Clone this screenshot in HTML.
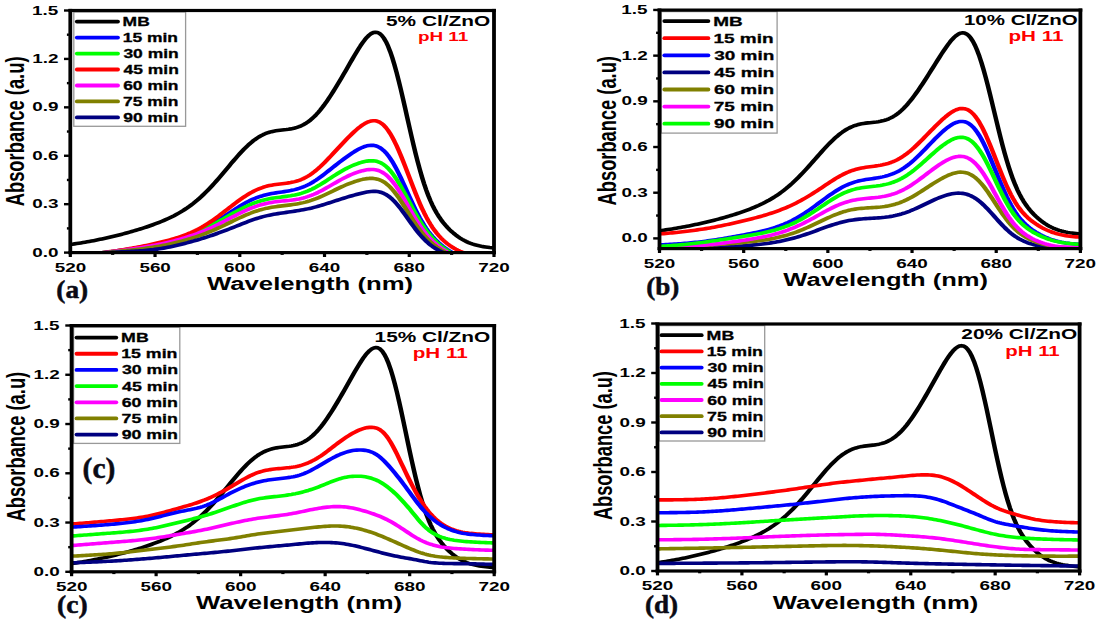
<!DOCTYPE html>
<html><head><meta charset="utf-8"><title>Absorbance spectra</title>
<style>html,body{margin:0;padding:0;background:#fff;width:1100px;height:625px;overflow:hidden}svg{display:block}</style></head>
<body>
<svg width="1100" height="625" viewBox="0 0 1100 625">
<rect width="1100" height="625" fill="#ffffff"/>
<clipPath id="clipa"><rect x="56.24" y="10.50" width="338.96" height="242.10"/></clipPath>
<g transform="scale(1.25,1)" clip-path="url(#clipa)" fill="none" stroke-width="3.6" stroke-linejoin="round">
<path d="M56.24,244.49 L57.93,244.19 L59.63,243.88 L61.32,243.56 L63.02,243.23 L64.71,242.89 L66.41,242.54 L68.10,242.18 L69.80,241.81 L71.49,241.42 L73.19,241.03 L74.88,240.63 L76.58,240.22 L78.27,239.79 L79.97,239.36 L81.66,238.91 L83.36,238.46 L85.05,237.99 L86.75,237.51 L88.44,237.03 L90.14,236.53 L91.83,236.02 L93.53,235.50 L95.22,234.97 L96.92,234.42 L98.61,233.87 L100.30,233.30 L102.00,232.73 L103.69,232.14 L105.39,231.54 L107.08,230.93 L108.78,230.30 L110.47,229.67 L112.17,229.01 L113.86,228.35 L115.56,227.66 L117.25,226.97 L118.95,226.25 L120.64,225.51 L122.34,224.76 L124.03,223.98 L125.73,223.18 L127.42,222.36 L129.12,221.50 L130.81,220.62 L132.51,219.70 L134.20,218.75 L135.90,217.76 L137.59,216.73 L139.29,215.66 L140.98,214.53 L142.67,213.36 L144.37,212.13 L146.06,210.85 L147.76,209.50 L149.45,208.10 L151.15,206.62 L152.84,205.08 L154.54,203.47 L156.23,201.78 L157.93,200.02 L159.62,198.18 L161.32,196.27 L163.01,194.28 L164.71,192.22 L166.40,190.08 L168.10,187.88 L169.79,185.61 L171.49,183.28 L173.18,180.90 L174.88,178.47 L176.57,176.00 L178.27,173.49 L179.96,170.97 L181.66,168.44 L183.35,165.90 L185.04,163.37 L186.74,160.87 L188.43,158.41 L190.13,155.99 L191.82,153.63 L193.52,151.35 L195.21,149.15 L196.91,147.05 L198.60,145.05 L200.30,143.18 L201.99,141.42 L203.69,139.80 L205.38,138.31 L207.08,136.96 L208.77,135.74 L210.47,134.67 L212.16,133.73 L213.86,132.92 L215.55,132.23 L217.25,131.65 L218.94,131.17 L220.64,130.78 L222.33,130.46 L224.03,130.18 L225.72,129.94 L227.41,129.71 L229.11,129.48 L230.80,129.21 L232.50,128.89 L234.19,128.50 L235.89,128.02 L237.58,127.42 L239.28,126.69 L240.97,125.82 L242.67,124.79 L244.36,123.58 L246.06,122.20 L247.75,120.63 L249.45,118.87 L251.14,116.91 L252.84,114.78 L254.53,112.45 L256.23,109.96 L257.92,107.30 L259.62,104.48 L261.31,101.53 L263.01,98.44 L264.70,95.24 L266.40,91.94 L268.09,88.55 L269.78,85.08 L271.48,81.54 L273.17,77.95 L274.87,74.32 L276.56,70.66 L278.26,66.98 L279.95,63.30 L281.65,59.63 L283.34,56.01 L285.04,52.46 L286.73,49.02 L288.43,45.73 L290.12,42.65 L291.82,39.83 L293.51,37.34 L295.21,35.26 L296.90,33.65 L298.60,32.60 L300.29,32.19 L301.99,32.47 L303.68,33.53 L305.38,35.40 L307.07,38.13 L308.77,41.74 L310.46,46.23 L312.15,51.59 L313.85,57.76 L315.54,64.71 L317.24,72.34 L318.93,80.56 L320.63,89.27 L322.32,98.34 L324.02,107.65 L325.71,117.08 L327.41,126.50 L329.10,135.79 L330.80,144.84 L332.49,153.56 L334.19,161.87 L335.88,169.70 L337.58,177.01 L339.27,183.78 L340.97,189.98 L342.66,195.63 L344.36,200.75 L346.05,205.38 L347.75,209.54 L349.44,213.29 L351.14,216.67 L352.83,219.74 L354.52,222.52 L356.22,225.07 L357.91,227.41 L359.61,229.56 L361.30,231.55 L363.00,233.39 L364.69,235.09 L366.39,236.66 L368.08,238.09 L369.78,239.39 L371.47,240.57 L373.17,241.62 L374.86,242.56 L376.56,243.39 L378.25,244.13 L379.95,244.77 L381.64,245.33 L383.34,245.82 L385.03,246.25 L386.73,246.63 L388.42,246.96 L390.12,247.26 L391.81,247.53 L393.51,247.76 L395.20,247.98" stroke="#000000"/>
<path d="M56.24,256.73 L57.93,256.49 L59.63,256.25 L61.32,256.00 L63.02,255.76 L64.71,255.51 L66.41,255.25 L68.10,255.00 L69.80,254.74 L71.49,254.47 L73.19,254.21 L74.88,253.94 L76.58,253.68 L78.27,253.41 L79.97,253.13 L81.66,252.86 L83.36,252.58 L85.05,252.30 L86.75,252.03 L88.44,251.74 L90.14,251.46 L91.83,251.17 L93.53,250.88 L95.22,250.59 L96.92,250.29 L98.61,249.99 L100.30,249.68 L102.00,249.37 L103.69,249.06 L105.39,248.74 L107.08,248.41 L108.78,248.08 L110.47,247.74 L112.17,247.39 L113.86,247.03 L115.56,246.67 L117.25,246.29 L118.95,245.91 L120.64,245.51 L122.34,245.11 L124.03,244.68 L125.73,244.25 L127.42,243.80 L129.12,243.33 L130.81,242.84 L132.51,242.34 L134.20,241.81 L135.90,241.26 L137.59,240.69 L139.29,240.10 L140.98,239.47 L142.67,238.83 L144.37,238.15 L146.06,237.44 L147.76,236.70 L149.45,235.93 L151.15,235.12 L152.84,234.27 L154.54,233.39 L156.23,232.47 L157.93,231.52 L159.62,230.52 L161.32,229.49 L163.01,228.41 L164.71,227.30 L166.40,226.15 L168.10,224.96 L169.79,223.74 L171.49,222.49 L173.18,221.21 L174.88,219.91 L176.57,218.58 L178.27,217.24 L179.96,215.87 L181.66,214.48 L183.35,213.09 L185.04,211.69 L186.74,210.30 L188.43,208.93 L190.13,207.58 L191.82,206.26 L193.52,204.98 L195.21,203.74 L196.91,202.56 L198.60,201.45 L200.30,200.40 L201.99,199.42 L203.69,198.51 L205.38,197.67 L207.08,196.90 L208.77,196.20 L210.47,195.56 L212.16,194.99 L213.86,194.48 L215.55,194.01 L217.25,193.60 L218.94,193.23 L220.64,192.89 L222.33,192.57 L224.03,192.26 L225.72,191.95 L227.41,191.64 L229.11,191.31 L230.80,190.95 L232.50,190.56 L234.19,190.11 L235.89,189.61 L237.58,189.05 L239.28,188.41 L240.97,187.69 L242.67,186.88 L244.36,185.98 L246.06,184.99 L247.75,183.90 L249.45,182.72 L251.14,181.45 L252.84,180.09 L254.53,178.66 L256.23,177.15 L257.92,175.59 L259.62,173.97 L261.31,172.32 L263.01,170.65 L264.70,168.96 L266.40,167.28 L268.09,165.60 L269.78,163.94 L271.48,162.30 L273.17,160.69 L274.87,159.10 L276.56,157.55 L278.26,156.04 L279.95,154.57 L281.65,153.15 L283.34,151.78 L285.04,150.49 L286.73,149.30 L288.43,148.21 L290.12,147.26 L291.82,146.46 L293.51,145.85 L295.21,145.44 L296.90,145.27 L298.60,145.36 L300.29,145.74 L301.99,146.45 L303.68,147.49 L305.38,148.90 L307.07,150.68 L308.77,152.85 L310.46,155.40 L312.15,158.33 L313.85,161.61 L315.54,165.23 L317.24,169.16 L318.93,173.34 L320.63,177.73 L322.32,182.28 L324.02,186.93 L325.71,191.62 L327.41,196.31 L329.10,200.93 L330.80,205.44 L332.49,209.80 L334.19,213.97 L335.88,217.93 L337.58,221.65 L339.27,225.13 L340.97,228.35 L342.66,231.33 L344.36,234.07 L346.05,236.59 L347.75,238.90 L349.44,241.03 L351.14,242.99 L352.83,244.81 L354.52,246.50 L356.22,248.07 L357.91,249.55 L359.61,250.93 L361.30,252.23 L363.00,253.44 L364.69,254.56 L366.39,255.60 L368.08,256.55 L369.78,257.42 L371.47,258.21 L373.17,258.92 L374.86,259.54 L376.56,260.10 L378.25,260.58 L379.95,261.00 L381.64,261.36 L383.34,261.67 L385.03,261.93 L386.73,262.15 L388.42,262.34 L390.12,262.49 L391.81,262.61 L393.51,262.71 L395.20,262.79" stroke="#0000ff"/>
<path d="M56.24,256.57 L57.93,256.34 L59.63,256.11 L61.32,255.88 L63.02,255.64 L64.71,255.40 L66.41,255.15 L68.10,254.91 L69.80,254.66 L71.49,254.41 L73.19,254.16 L74.88,253.90 L76.58,253.64 L78.27,253.39 L79.97,253.13 L81.66,252.87 L83.36,252.60 L85.05,252.34 L86.75,252.07 L88.44,251.81 L90.14,251.54 L91.83,251.26 L93.53,250.99 L95.22,250.71 L96.92,250.42 L98.61,250.14 L100.30,249.84 L102.00,249.55 L103.69,249.24 L105.39,248.93 L107.08,248.62 L108.78,248.30 L110.47,247.97 L112.17,247.63 L113.86,247.28 L115.56,246.92 L117.25,246.56 L118.95,246.18 L120.64,245.79 L122.34,245.38 L124.03,244.97 L125.73,244.54 L127.42,244.09 L129.12,243.62 L130.81,243.14 L132.51,242.64 L134.20,242.11 L135.90,241.57 L137.59,241.01 L139.29,240.42 L140.98,239.81 L142.67,239.17 L144.37,238.51 L146.06,237.82 L147.76,237.10 L149.45,236.35 L151.15,235.58 L152.84,234.77 L154.54,233.93 L156.23,233.06 L157.93,232.15 L159.62,231.22 L161.32,230.25 L163.01,229.25 L164.71,228.22 L166.40,227.15 L168.10,226.07 L169.79,224.95 L171.49,223.81 L173.18,222.66 L174.88,221.48 L176.57,220.30 L178.27,219.10 L179.96,217.89 L181.66,216.69 L183.35,215.48 L185.04,214.28 L186.74,213.10 L188.43,211.93 L190.13,210.78 L191.82,209.66 L193.52,208.57 L195.21,207.52 L196.91,206.50 L198.60,205.53 L200.30,204.61 L201.99,203.74 L203.69,202.92 L205.38,202.16 L207.08,201.45 L208.77,200.80 L210.47,200.20 L212.16,199.67 L213.86,199.18 L215.55,198.75 L217.25,198.37 L218.94,198.03 L220.64,197.72 L222.33,197.43 L224.03,197.16 L225.72,196.90 L227.41,196.63 L229.11,196.35 L230.80,196.05 L232.50,195.72 L234.19,195.35 L235.89,194.94 L237.58,194.47 L239.28,193.93 L240.97,193.33 L242.67,192.66 L244.36,191.91 L246.06,191.08 L247.75,190.18 L249.45,189.20 L251.14,188.14 L252.84,187.02 L254.53,185.83 L256.23,184.58 L257.92,183.29 L259.62,181.96 L261.31,180.59 L263.01,179.22 L264.70,177.83 L266.40,176.45 L268.09,175.09 L269.78,173.75 L271.48,172.45 L273.17,171.20 L274.87,170.00 L276.56,168.86 L278.26,167.77 L279.95,166.75 L281.65,165.78 L283.34,164.87 L285.04,164.03 L286.73,163.27 L288.43,162.58 L290.12,161.99 L291.82,161.49 L293.51,161.11 L295.21,160.87 L296.90,160.76 L298.60,160.83 L300.29,161.09 L301.99,161.58 L303.68,162.33 L305.38,163.36 L307.07,164.68 L308.77,166.32 L310.46,168.28 L312.15,170.56 L313.85,173.16 L315.54,176.06 L317.24,179.25 L318.93,182.68 L320.63,186.33 L322.32,190.13 L324.02,194.06 L325.71,198.05 L327.41,202.05 L329.10,206.04 L330.80,209.95 L332.49,213.76 L334.19,217.43 L335.88,220.95 L337.58,224.28 L339.27,227.41 L340.97,230.35 L342.66,233.09 L344.36,235.64 L346.05,238.01 L347.75,240.20 L349.44,242.24 L351.14,244.14 L352.83,245.92 L354.52,247.58 L356.22,249.13 L357.91,250.60 L359.61,251.97 L361.30,253.25 L363.00,254.44 L364.69,255.55 L366.39,256.58 L368.08,257.52 L369.78,258.39 L371.47,259.17 L373.17,259.87 L374.86,260.49 L376.56,261.05 L378.25,261.53 L379.95,261.95 L381.64,262.30 L383.34,262.61 L385.03,262.86 L386.73,263.08 L388.42,263.25 L390.12,263.39 L391.81,263.49 L393.51,263.57 L395.20,263.62" stroke="#00ff00"/>
<path d="M56.24,255.10 L57.93,255.01 L59.63,254.91 L61.32,254.80 L63.02,254.68 L64.71,254.55 L66.41,254.41 L68.10,254.26 L69.80,254.10 L71.49,253.93 L73.19,253.75 L74.88,253.56 L76.58,253.36 L78.27,253.14 L79.97,252.92 L81.66,252.68 L83.36,252.43 L85.05,252.17 L86.75,251.90 L88.44,251.61 L90.14,251.32 L91.83,251.01 L93.53,250.70 L95.22,250.37 L96.92,250.04 L98.61,249.70 L100.30,249.34 L102.00,248.98 L103.69,248.62 L105.39,248.24 L107.08,247.86 L108.78,247.46 L110.47,247.06 L112.17,246.66 L113.86,246.24 L115.56,245.82 L117.25,245.38 L118.95,244.94 L120.64,244.49 L122.34,244.03 L124.03,243.56 L125.73,243.08 L127.42,242.59 L129.12,242.08 L130.81,241.55 L132.51,241.02 L134.20,240.46 L135.90,239.88 L137.59,239.29 L139.29,238.67 L140.98,238.02 L142.67,237.35 L144.37,236.64 L146.06,235.90 L147.76,235.12 L149.45,234.30 L151.15,233.44 L152.84,232.54 L154.54,231.58 L156.23,230.58 L157.93,229.52 L159.62,228.41 L161.32,227.24 L163.01,226.02 L164.71,224.73 L166.40,223.40 L168.10,222.01 L169.79,220.58 L171.49,219.10 L173.18,217.57 L174.88,216.01 L176.57,214.42 L178.27,212.80 L179.96,211.16 L181.66,209.52 L183.35,207.88 L185.04,206.24 L186.74,204.62 L188.43,203.02 L190.13,201.44 L191.82,199.91 L193.52,198.42 L195.21,196.98 L196.91,195.60 L198.60,194.29 L200.30,193.04 L201.99,191.87 L203.69,190.79 L205.38,189.78 L207.08,188.87 L208.77,188.04 L210.47,187.30 L212.16,186.64 L213.86,186.06 L215.55,185.57 L217.25,185.14 L218.94,184.77 L220.64,184.45 L222.33,184.18 L224.03,183.92 L225.72,183.68 L227.41,183.44 L229.11,183.17 L230.80,182.87 L232.50,182.53 L234.19,182.11 L235.89,181.62 L237.58,181.03 L239.28,180.34 L240.97,179.53 L242.67,178.61 L244.36,177.56 L246.06,176.38 L247.75,175.06 L249.45,173.62 L251.14,172.05 L252.84,170.36 L254.53,168.56 L256.23,166.65 L257.92,164.65 L259.62,162.57 L261.31,160.42 L263.01,158.21 L264.70,155.97 L266.40,153.69 L268.09,151.40 L269.78,149.11 L271.48,146.82 L273.17,144.56 L274.87,142.32 L276.56,140.11 L278.26,137.94 L279.95,135.83 L281.65,133.77 L283.34,131.78 L285.04,129.88 L286.73,128.09 L288.43,126.42 L290.12,124.91 L291.82,123.58 L293.51,122.46 L295.21,121.59 L296.90,121.00 L298.60,120.73 L300.29,120.82 L301.99,121.30 L303.68,122.20 L305.38,123.54 L307.07,125.35 L308.77,127.63 L310.46,130.39 L312.15,133.60 L313.85,137.24 L315.54,141.29 L317.24,145.69 L318.93,150.40 L320.63,155.38 L322.32,160.58 L324.02,165.95 L325.71,171.42 L327.41,176.96 L329.10,182.50 L330.80,187.99 L332.49,193.36 L334.19,198.56 L335.88,203.55 L337.58,208.27 L339.27,212.72 L340.97,216.88 L342.66,220.73 L344.36,224.29 L346.05,227.55 L347.75,230.54 L349.44,233.26 L351.14,235.75 L352.83,238.02 L354.52,240.09 L356.22,241.98 L357.91,243.71 L359.61,245.29 L361.30,246.73 L363.00,248.04 L364.69,249.23 L366.39,250.29 L368.08,251.25 L369.78,252.10 L371.47,252.86 L373.17,253.52 L374.86,254.10 L376.56,254.61 L378.25,255.05 L379.95,255.42 L381.64,255.73 L383.34,255.99 L385.03,256.21 L386.73,256.39 L388.42,256.53 L390.12,256.65 L391.81,256.74 L393.51,256.81 L395.20,256.87" stroke="#ff0000"/>
<path d="M56.24,256.51 L57.93,256.28 L59.63,256.05 L61.32,255.82 L63.02,255.58 L64.71,255.35 L66.41,255.11 L68.10,254.86 L69.80,254.62 L71.49,254.37 L73.19,254.12 L74.88,253.87 L76.58,253.62 L78.27,253.37 L79.97,253.11 L81.66,252.86 L83.36,252.60 L85.05,252.34 L86.75,252.08 L88.44,251.82 L90.14,251.55 L91.83,251.29 L93.53,251.02 L95.22,250.74 L96.92,250.47 L98.61,250.19 L100.30,249.90 L102.00,249.61 L103.69,249.31 L105.39,249.01 L107.08,248.71 L108.78,248.39 L110.47,248.07 L112.17,247.74 L113.86,247.41 L115.56,247.06 L117.25,246.71 L118.95,246.34 L120.64,245.96 L122.34,245.58 L124.03,245.18 L125.73,244.76 L127.42,244.33 L129.12,243.89 L130.81,243.42 L132.51,242.94 L134.20,242.45 L135.90,241.94 L137.59,241.41 L139.29,240.86 L140.98,240.29 L142.67,239.71 L144.37,239.10 L146.06,238.48 L147.76,237.83 L149.45,237.17 L151.15,236.49 L152.84,235.78 L154.54,235.05 L156.23,234.30 L157.93,233.52 L159.62,232.71 L161.32,231.88 L163.01,231.01 L164.71,230.12 L166.40,229.20 L168.10,228.25 L169.79,227.28 L171.49,226.27 L173.18,225.25 L174.88,224.20 L176.57,223.13 L178.27,222.04 L179.96,220.94 L181.66,219.83 L183.35,218.72 L185.04,217.61 L186.74,216.51 L188.43,215.41 L190.13,214.33 L191.82,213.28 L193.52,212.25 L195.21,211.25 L196.91,210.28 L198.60,209.35 L200.30,208.47 L201.99,207.63 L203.69,206.84 L205.38,206.11 L207.08,205.42 L208.77,204.79 L210.47,204.21 L212.16,203.68 L213.86,203.21 L215.55,202.80 L217.25,202.42 L218.94,202.09 L220.64,201.80 L222.33,201.54 L224.03,201.31 L225.72,201.09 L227.41,200.87 L229.11,200.66 L230.80,200.44 L232.50,200.20 L234.19,199.94 L235.89,199.64 L237.58,199.29 L239.28,198.90 L240.97,198.45 L242.67,197.93 L244.36,197.34 L246.06,196.68 L247.75,195.95 L249.45,195.15 L251.14,194.27 L252.84,193.33 L254.53,192.33 L256.23,191.26 L257.92,190.15 L259.62,189.00 L261.31,187.82 L263.01,186.61 L264.70,185.39 L266.40,184.16 L268.09,182.93 L269.78,181.72 L271.48,180.53 L273.17,179.37 L274.87,178.25 L276.56,177.17 L278.26,176.14 L279.95,175.16 L281.65,174.25 L283.34,173.39 L285.04,172.60 L286.73,171.87 L288.43,171.22 L290.12,170.66 L291.82,170.19 L293.51,169.82 L295.21,169.58 L296.90,169.47 L298.60,169.53 L300.29,169.78 L301.99,170.25 L303.68,170.96 L305.38,171.94 L307.07,173.21 L308.77,174.76 L310.46,176.62 L312.15,178.78 L313.85,181.23 L315.54,183.95 L317.24,186.94 L318.93,190.16 L320.63,193.56 L322.32,197.11 L324.02,200.76 L325.71,204.47 L327.41,208.19 L329.10,211.87 L330.80,215.49 L332.49,219.00 L334.19,222.38 L335.88,225.61 L337.58,228.65 L339.27,231.52 L340.97,234.19 L342.66,236.67 L344.36,238.96 L346.05,241.08 L347.75,243.04 L349.44,244.85 L351.14,246.52 L352.83,248.08 L354.52,249.52 L356.22,250.87 L357.91,252.13 L359.61,253.30 L361.30,254.39 L363.00,255.41 L364.69,256.35 L366.39,257.23 L368.08,258.03 L369.78,258.76 L371.47,259.41 L373.17,260.01 L374.86,260.53 L376.56,260.99 L378.25,261.39 L379.95,261.74 L381.64,262.04 L383.34,262.29 L385.03,262.50 L386.73,262.68 L388.42,262.82 L390.12,262.93 L391.81,263.01 L393.51,263.08 L395.20,263.12" stroke="#ff00ff"/>
<path d="M56.24,256.09 L57.93,255.88 L59.63,255.66 L61.32,255.44 L63.02,255.23 L64.71,255.01 L66.41,254.79 L68.10,254.57 L69.80,254.36 L71.49,254.14 L73.19,253.92 L74.88,253.71 L76.58,253.50 L78.27,253.28 L79.97,253.07 L81.66,252.86 L83.36,252.66 L85.05,252.45 L86.75,252.25 L88.44,252.05 L90.14,251.84 L91.83,251.64 L93.53,251.44 L95.22,251.23 L96.92,251.02 L98.61,250.81 L100.30,250.60 L102.00,250.38 L103.69,250.16 L105.39,249.93 L107.08,249.70 L108.78,249.46 L110.47,249.21 L112.17,248.95 L113.86,248.69 L115.56,248.42 L117.25,248.13 L118.95,247.84 L120.64,247.53 L122.34,247.20 L124.03,246.87 L125.73,246.51 L127.42,246.14 L129.12,245.75 L130.81,245.34 L132.51,244.91 L134.20,244.47 L135.90,244.00 L137.59,243.52 L139.29,243.02 L140.98,242.51 L142.67,241.97 L144.37,241.42 L146.06,240.85 L147.76,240.26 L149.45,239.66 L151.15,239.04 L152.84,238.40 L154.54,237.74 L156.23,237.07 L157.93,236.37 L159.62,235.64 L161.32,234.89 L163.01,234.11 L164.71,233.31 L166.40,232.48 L168.10,231.62 L169.79,230.74 L171.49,229.82 L173.18,228.89 L174.88,227.93 L176.57,226.94 L178.27,225.94 L179.96,224.93 L181.66,223.91 L183.35,222.87 L185.04,221.84 L186.74,220.81 L188.43,219.79 L190.13,218.78 L191.82,217.79 L193.52,216.82 L195.21,215.87 L196.91,214.96 L198.60,214.08 L200.30,213.24 L201.99,212.43 L203.69,211.68 L205.38,210.97 L207.08,210.30 L208.77,209.68 L210.47,209.12 L212.16,208.60 L213.86,208.13 L215.55,207.71 L217.25,207.33 L218.94,206.99 L220.64,206.68 L222.33,206.40 L224.03,206.14 L225.72,205.89 L227.41,205.64 L229.11,205.39 L230.80,205.14 L232.50,204.87 L234.19,204.59 L235.89,204.27 L237.58,203.92 L239.28,203.54 L240.97,203.11 L242.67,202.63 L244.36,202.10 L246.06,201.52 L247.75,200.88 L249.45,200.19 L251.14,199.44 L252.84,198.64 L254.53,197.79 L256.23,196.90 L257.92,195.96 L259.62,195.00 L261.31,194.00 L263.01,192.99 L264.70,191.96 L266.40,190.93 L268.09,189.90 L269.78,188.88 L271.48,187.88 L273.17,186.90 L274.87,185.95 L276.56,185.03 L278.26,184.15 L279.95,183.32 L281.65,182.53 L283.34,181.78 L285.04,181.09 L286.73,180.45 L288.43,179.87 L290.12,179.37 L291.82,178.95 L293.51,178.63 L295.21,178.42 L296.90,178.34 L298.60,178.42 L300.29,178.68 L301.99,179.15 L303.68,179.84 L305.38,180.78 L307.07,181.98 L308.77,183.45 L310.46,185.19 L312.15,187.20 L313.85,189.48 L315.54,192.01 L317.24,194.76 L318.93,197.72 L320.63,200.84 L322.32,204.08 L324.02,207.41 L325.71,210.79 L327.41,214.17 L329.10,217.52 L330.80,220.79 L332.49,223.97 L334.19,227.02 L335.88,229.92 L337.58,232.65 L339.27,235.21 L340.97,237.60 L342.66,239.80 L344.36,241.84 L346.05,243.71 L347.75,245.43 L349.44,247.02 L351.14,248.48 L352.83,249.83 L354.52,251.08 L356.22,252.24 L357.91,253.31 L359.61,254.32 L361.30,255.25 L363.00,256.12 L364.69,256.92 L366.39,257.66 L368.08,258.34 L369.78,258.96 L371.47,259.52 L373.17,260.01 L374.86,260.45 L376.56,260.84 L378.25,261.17 L379.95,261.46 L381.64,261.70 L383.34,261.91 L385.03,262.07 L386.73,262.21 L388.42,262.32 L390.12,262.41 L391.81,262.47 L393.51,262.51 L395.20,262.54" stroke="#808000"/>
<path d="M56.24,255.56 L57.93,255.35 L59.63,255.15 L61.32,254.95 L63.02,254.75 L64.71,254.55 L66.41,254.36 L68.10,254.18 L69.80,254.00 L71.49,253.82 L73.19,253.65 L74.88,253.49 L76.58,253.33 L78.27,253.18 L79.97,253.04 L81.66,252.90 L83.36,252.77 L85.05,252.65 L86.75,252.54 L88.44,252.43 L90.14,252.32 L91.83,252.22 L93.53,252.12 L95.22,252.02 L96.92,251.92 L98.61,251.82 L100.30,251.72 L102.00,251.61 L103.69,251.50 L105.39,251.39 L107.08,251.27 L108.78,251.14 L110.47,251.00 L112.17,250.85 L113.86,250.69 L115.56,250.52 L117.25,250.33 L118.95,250.12 L120.64,249.90 L122.34,249.66 L124.03,249.40 L125.73,249.12 L127.42,248.81 L129.12,248.48 L130.81,248.13 L132.51,247.75 L134.20,247.34 L135.90,246.92 L137.59,246.47 L139.29,246.01 L140.98,245.53 L142.67,245.03 L144.37,244.52 L146.06,243.99 L147.76,243.45 L149.45,242.90 L151.15,242.33 L152.84,241.76 L154.54,241.17 L156.23,240.57 L157.93,239.96 L159.62,239.33 L161.32,238.69 L163.01,238.03 L164.71,237.35 L166.40,236.66 L168.10,235.95 L169.79,235.23 L171.49,234.49 L173.18,233.74 L174.88,232.97 L176.57,232.20 L178.27,231.42 L179.96,230.62 L181.66,229.82 L183.35,229.00 L185.04,228.18 L186.74,227.34 L188.43,226.50 L190.13,225.65 L191.82,224.79 L193.52,223.94 L195.21,223.09 L196.91,222.26 L198.60,221.45 L200.30,220.66 L201.99,219.90 L203.69,219.17 L205.38,218.48 L207.08,217.83 L208.77,217.21 L210.47,216.64 L212.16,216.11 L213.86,215.61 L215.55,215.15 L217.25,214.73 L218.94,214.33 L220.64,213.96 L222.33,213.62 L224.03,213.29 L225.72,212.97 L227.41,212.67 L229.11,212.36 L230.80,212.06 L232.50,211.76 L234.19,211.46 L235.89,211.14 L237.58,210.81 L239.28,210.47 L240.97,210.11 L242.67,209.72 L244.36,209.31 L246.06,208.87 L247.75,208.41 L249.45,207.92 L251.14,207.39 L252.84,206.84 L254.53,206.26 L256.23,205.65 L257.92,205.02 L259.62,204.36 L261.31,203.69 L263.01,203.01 L264.70,202.32 L266.40,201.63 L268.09,200.93 L269.78,200.24 L271.48,199.56 L273.17,198.88 L274.87,198.22 L276.56,197.57 L278.26,196.93 L279.95,196.31 L281.65,195.70 L283.34,195.10 L285.04,194.52 L286.73,193.96 L288.43,193.42 L290.12,192.91 L291.82,192.45 L293.51,192.04 L295.21,191.70 L296.90,191.46 L298.60,191.34 L300.29,191.36 L301.99,191.56 L303.68,191.95 L305.38,192.56 L307.07,193.40 L308.77,194.49 L310.46,195.84 L312.15,197.43 L313.85,199.28 L315.54,201.37 L317.24,203.69 L318.93,206.21 L320.63,208.89 L322.32,211.71 L324.02,214.62 L325.71,217.58 L327.41,220.56 L329.10,223.51 L330.80,226.41 L332.49,229.23 L334.19,231.93 L335.88,234.50 L337.58,236.92 L339.27,239.18 L340.97,241.26 L342.66,243.18 L344.36,244.94 L346.05,246.53 L347.75,247.98 L349.44,249.29 L351.14,250.48 L352.83,251.56 L354.52,252.55 L356.22,253.46 L357.91,254.30 L359.61,255.09 L361.30,255.81 L363.00,256.49 L364.69,257.11 L366.39,257.69 L368.08,258.21 L369.78,258.69 L371.47,259.12 L373.17,259.51 L374.86,259.85 L376.56,260.14 L378.25,260.40 L379.95,260.62 L381.64,260.81 L383.34,260.97 L385.03,261.11 L386.73,261.22 L388.42,261.31 L390.12,261.38 L391.81,261.43 L393.51,261.48 L395.20,261.51" stroke="#000080"/>
</g>
<rect x="73.8" y="12.0" width="111.80" height="114.30" fill="none" stroke="#999999" stroke-width="1.3"/>
<line x1="76.8" y1="21.60" x2="118.0" y2="21.60" stroke="#000000" stroke-width="3.8" stroke-linecap="round"/>
<text transform="translate(122.62,25.99) scale(1.430,1)" font-family="'Liberation Sans', sans-serif" font-weight="bold" font-size="12.20" fill="#000" stroke="#000" stroke-width="0.3" stroke-linejoin="round">MB</text>
<line x1="76.8" y1="37.57" x2="118.0" y2="37.57" stroke="#0000ff" stroke-width="3.8" stroke-linecap="round"/>
<text transform="translate(122.71,41.96) scale(1.430,1)" font-family="'Liberation Sans', sans-serif" font-weight="bold" font-size="12.20" fill="#000" stroke="#000" stroke-width="0.3" stroke-linejoin="round">15 min</text>
<line x1="76.8" y1="53.54" x2="118.0" y2="53.54" stroke="#00ff00" stroke-width="3.8" stroke-linecap="round"/>
<text transform="translate(123.41,57.93) scale(1.430,1)" font-family="'Liberation Sans', sans-serif" font-weight="bold" font-size="12.20" fill="#000" stroke="#000" stroke-width="0.3" stroke-linejoin="round">30 min</text>
<line x1="76.8" y1="69.51" x2="118.0" y2="69.51" stroke="#ff0000" stroke-width="3.8" stroke-linecap="round"/>
<text transform="translate(123.54,73.90) scale(1.430,1)" font-family="'Liberation Sans', sans-serif" font-weight="bold" font-size="12.20" fill="#000" stroke="#000" stroke-width="0.3" stroke-linejoin="round">45 min</text>
<line x1="76.8" y1="85.48" x2="118.0" y2="85.48" stroke="#ff00ff" stroke-width="3.8" stroke-linecap="round"/>
<text transform="translate(123.15,89.87) scale(1.430,1)" font-family="'Liberation Sans', sans-serif" font-weight="bold" font-size="12.20" fill="#000" stroke="#000" stroke-width="0.3" stroke-linejoin="round">60 min</text>
<line x1="76.8" y1="101.45" x2="118.0" y2="101.45" stroke="#808000" stroke-width="3.8" stroke-linecap="round"/>
<text transform="translate(123.06,105.84) scale(1.430,1)" font-family="'Liberation Sans', sans-serif" font-weight="bold" font-size="12.20" fill="#000" stroke="#000" stroke-width="0.3" stroke-linejoin="round">75 min</text>
<line x1="76.8" y1="117.42" x2="118.0" y2="117.42" stroke="#000080" stroke-width="3.8" stroke-linecap="round"/>
<text transform="translate(123.19,121.81) scale(1.430,1)" font-family="'Liberation Sans', sans-serif" font-weight="bold" font-size="12.20" fill="#000" stroke="#000" stroke-width="0.3" stroke-linejoin="round">90 min</text>
<rect x="68.40" y="8.90" width="427.50" height="3.2" fill="#000"/>
<rect x="68.40" y="251.00" width="427.50" height="3.2" fill="#000"/>
<rect x="68.40" y="8.90" width="3.8" height="245.30" fill="#000"/>
<rect x="492.10" y="8.90" width="3.8" height="245.30" fill="#000"/>
<rect x="68.70" y="252.60" width="3.2" height="4.40" fill="#000"/>
<text transform="translate(54.64,271.60) scale(1.410,1)" font-family="'Liberation Sans', sans-serif" font-weight="bold" font-size="13.40" fill="#000">520</text>
<rect x="111.07" y="252.60" width="3.2" height="2.30" fill="#000"/>
<rect x="153.44" y="252.60" width="3.2" height="4.40" fill="#000"/>
<text transform="translate(139.38,271.60) scale(1.410,1)" font-family="'Liberation Sans', sans-serif" font-weight="bold" font-size="13.40" fill="#000">560</text>
<rect x="195.81" y="252.60" width="3.2" height="2.30" fill="#000"/>
<rect x="238.18" y="252.60" width="3.2" height="4.40" fill="#000"/>
<text transform="translate(224.05,271.60) scale(1.410,1)" font-family="'Liberation Sans', sans-serif" font-weight="bold" font-size="13.40" fill="#000">600</text>
<rect x="280.55" y="252.60" width="3.2" height="2.30" fill="#000"/>
<rect x="322.92" y="252.60" width="3.2" height="4.40" fill="#000"/>
<text transform="translate(308.79,271.60) scale(1.410,1)" font-family="'Liberation Sans', sans-serif" font-weight="bold" font-size="13.40" fill="#000">640</text>
<rect x="365.29" y="252.60" width="3.2" height="2.30" fill="#000"/>
<rect x="407.66" y="252.60" width="3.2" height="4.40" fill="#000"/>
<text transform="translate(393.53,271.60) scale(1.410,1)" font-family="'Liberation Sans', sans-serif" font-weight="bold" font-size="13.40" fill="#000">680</text>
<rect x="450.03" y="252.60" width="3.2" height="2.30" fill="#000"/>
<rect x="492.40" y="252.60" width="3.2" height="4.40" fill="#000"/>
<text transform="translate(478.22,271.60) scale(1.410,1)" font-family="'Liberation Sans', sans-serif" font-weight="bold" font-size="13.40" fill="#000">720</text>
<rect x="64.00" y="251.40" width="4.90" height="2.4" fill="#000"/>
<text transform="translate(32.29,256.64) scale(1.410,1)" font-family="'Liberation Sans', sans-serif" font-weight="bold" font-size="13.40" fill="#000">0.0</text>
<rect x="66.90" y="227.19" width="2.00" height="2.4" fill="#000"/>
<rect x="64.00" y="202.98" width="4.90" height="2.4" fill="#000"/>
<text transform="translate(32.20,208.22) scale(1.410,1)" font-family="'Liberation Sans', sans-serif" font-weight="bold" font-size="13.40" fill="#000">0.3</text>
<rect x="66.90" y="178.77" width="2.00" height="2.4" fill="#000"/>
<rect x="64.00" y="154.56" width="4.90" height="2.4" fill="#000"/>
<text transform="translate(32.20,159.80) scale(1.410,1)" font-family="'Liberation Sans', sans-serif" font-weight="bold" font-size="13.40" fill="#000">0.6</text>
<rect x="66.90" y="130.35" width="2.00" height="2.4" fill="#000"/>
<rect x="64.00" y="106.14" width="4.90" height="2.4" fill="#000"/>
<text transform="translate(32.20,111.38) scale(1.410,1)" font-family="'Liberation Sans', sans-serif" font-weight="bold" font-size="13.40" fill="#000">0.9</text>
<rect x="66.90" y="81.93" width="2.00" height="2.4" fill="#000"/>
<rect x="64.00" y="57.72" width="4.90" height="2.4" fill="#000"/>
<text transform="translate(32.29,62.96) scale(1.410,1)" font-family="'Liberation Sans', sans-serif" font-weight="bold" font-size="13.40" fill="#000">1.2</text>
<rect x="66.90" y="33.51" width="2.00" height="2.4" fill="#000"/>
<rect x="64.00" y="9.30" width="4.90" height="2.4" fill="#000"/>
<text transform="translate(32.06,14.54) scale(1.410,1)" font-family="'Liberation Sans', sans-serif" font-weight="bold" font-size="13.40" fill="#000">1.5</text>
<text transform="translate(386.02,25.67) scale(1.480,1)" font-family="'Liberation Sans', sans-serif" font-weight="bold" font-size="14.09" fill="#000">5% Cl/ZnO</text>
<text transform="translate(417.92,41.01) scale(1.434,1)" font-family="'Liberation Sans', sans-serif" font-weight="bold" font-size="13.18" fill="#ff0000">pH 11</text>
<text transform="translate(56.37,297.63) scale(1.101,1)" font-family="'Liberation Serif', serif" font-weight="bold" font-size="24.79" fill="#0a0a14" stroke="#0a0a14" stroke-width="0.5" stroke-linejoin="round">(a)</text>
<text transform="translate(206.89,289.60) scale(1.419,1)" font-family="'Liberation Sans', sans-serif" font-weight="bold" font-size="18.13" fill="#000">Wavelength (nm)</text>
<text transform="translate(23.99,206.31) scale(1.357,1) rotate(-90)" font-family="'Liberation Sans', sans-serif" font-weight="bold" font-size="18.34" fill="#000">Absorbance (a.u)</text>
<clipPath id="clipb"><rect x="527.60" y="10.10" width="336.72" height="238.50"/></clipPath>
<g transform="scale(1.25,1)" clip-path="url(#clipb)" fill="none" stroke-width="3.6" stroke-linejoin="round">
<path d="M527.60,230.75 L529.28,230.46 L530.97,230.17 L532.65,229.87 L534.33,229.56 L536.02,229.24 L537.70,228.91 L539.39,228.56 L541.07,228.21 L542.75,227.85 L544.44,227.48 L546.12,227.10 L547.80,226.71 L549.49,226.31 L551.17,225.90 L552.85,225.48 L554.54,225.05 L556.22,224.61 L557.90,224.16 L559.59,223.70 L561.27,223.23 L562.96,222.75 L564.64,222.26 L566.32,221.76 L568.01,221.25 L569.69,220.73 L571.37,220.19 L573.06,219.65 L574.74,219.09 L576.42,218.53 L578.11,217.95 L579.79,217.36 L581.48,216.76 L583.16,216.14 L584.84,215.51 L586.53,214.87 L588.21,214.21 L589.89,213.54 L591.58,212.84 L593.26,212.13 L594.94,211.40 L596.63,210.64 L598.31,209.86 L599.99,209.06 L601.68,208.22 L603.36,207.36 L605.05,206.46 L606.73,205.53 L608.41,204.55 L610.10,203.54 L611.78,202.48 L613.46,201.37 L615.15,200.21 L616.83,199.00 L618.51,197.73 L620.20,196.41 L621.88,195.02 L623.57,193.56 L625.25,192.04 L626.93,190.44 L628.62,188.78 L630.30,187.05 L631.98,185.24 L633.67,183.37 L635.35,181.42 L637.03,179.41 L638.72,177.33 L640.40,175.19 L642.08,172.99 L643.77,170.74 L645.45,168.45 L647.14,166.12 L648.82,163.75 L650.50,161.37 L652.19,158.98 L653.87,156.59 L655.55,154.20 L657.24,151.84 L658.92,149.52 L660.60,147.24 L662.29,145.01 L663.97,142.86 L665.66,140.78 L667.34,138.80 L669.02,136.92 L670.71,135.15 L672.39,133.49 L674.07,131.96 L675.76,130.55 L677.44,129.28 L679.12,128.13 L680.81,127.12 L682.49,126.23 L684.17,125.47 L685.86,124.82 L687.54,124.27 L689.23,123.82 L690.91,123.45 L692.59,123.14 L694.28,122.88 L695.96,122.66 L697.64,122.44 L699.33,122.22 L701.01,121.97 L702.69,121.67 L704.38,121.30 L706.06,120.84 L707.75,120.28 L709.43,119.59 L711.11,118.77 L712.80,117.80 L714.48,116.66 L716.16,115.35 L717.85,113.87 L719.53,112.21 L721.21,110.37 L722.90,108.36 L724.58,106.18 L726.26,103.83 L727.95,101.33 L729.63,98.69 L731.32,95.91 L733.00,93.03 L734.68,90.04 L736.37,86.96 L738.05,83.80 L739.73,80.58 L741.42,77.32 L743.10,74.01 L744.78,70.68 L746.47,67.33 L748.15,63.97 L749.84,60.63 L751.52,57.32 L753.20,54.05 L754.89,50.86 L756.57,47.78 L758.25,44.84 L759.94,42.09 L761.62,39.58 L763.30,37.37 L764.99,35.52 L766.67,34.10 L768.35,33.18 L770.04,32.84 L771.72,33.12 L773.41,34.10 L775.09,35.82 L776.77,38.33 L778.46,41.64 L780.14,45.76 L781.82,50.67 L783.51,56.35 L785.19,62.74 L786.87,69.78 L788.56,77.37 L790.24,85.43 L791.93,93.84 L793.61,102.48 L795.29,111.25 L796.98,120.02 L798.66,128.68 L800.34,137.13 L802.03,145.28 L803.71,153.05 L805.39,160.38 L807.08,167.24 L808.76,173.58 L810.44,179.40 L812.13,184.71 L813.81,189.53 L815.50,193.88 L817.18,197.79 L818.86,201.33 L820.55,204.51 L822.23,207.40 L823.91,210.02 L825.60,212.42 L827.28,214.63 L828.96,216.66 L830.65,218.54 L832.33,220.28 L834.02,221.88 L835.70,223.36 L837.38,224.71 L839.07,225.93 L840.75,227.04 L842.43,228.04 L844.12,228.93 L845.80,229.71 L847.48,230.40 L849.17,231.01 L850.85,231.54 L852.53,232.00 L854.22,232.41 L855.90,232.77 L857.59,233.08 L859.27,233.36 L860.95,233.61 L862.64,233.84 L864.32,234.04" stroke="#000000"/>
<path d="M527.60,233.99 L529.28,233.81 L530.97,233.62 L532.65,233.43 L534.33,233.24 L536.02,233.04 L537.70,232.84 L539.39,232.63 L541.07,232.42 L542.75,232.20 L544.44,231.97 L546.12,231.74 L547.80,231.50 L549.49,231.26 L551.17,231.00 L552.85,230.74 L554.54,230.47 L556.22,230.18 L557.90,229.89 L559.59,229.59 L561.27,229.28 L562.96,228.95 L564.64,228.62 L566.32,228.27 L568.01,227.91 L569.69,227.54 L571.37,227.15 L573.06,226.76 L574.74,226.35 L576.42,225.94 L578.11,225.51 L579.79,225.08 L581.48,224.63 L583.16,224.18 L584.84,223.72 L586.53,223.26 L588.21,222.78 L589.89,222.30 L591.58,221.81 L593.26,221.31 L594.94,220.80 L596.63,220.29 L598.31,219.77 L599.99,219.24 L601.68,218.70 L603.36,218.15 L605.05,217.59 L606.73,217.02 L608.41,216.43 L610.10,215.83 L611.78,215.21 L613.46,214.57 L615.15,213.92 L616.83,213.24 L618.51,212.54 L620.20,211.81 L621.88,211.06 L623.57,210.29 L625.25,209.48 L626.93,208.64 L628.62,207.78 L630.30,206.88 L631.98,205.95 L633.67,204.98 L635.35,203.97 L637.03,202.93 L638.72,201.85 L640.40,200.73 L642.08,199.57 L643.77,198.38 L645.45,197.15 L647.14,195.89 L648.82,194.60 L650.50,193.28 L652.19,191.94 L653.87,190.57 L655.55,189.19 L657.24,187.80 L658.92,186.40 L660.60,184.98 L662.29,183.58 L663.97,182.19 L665.66,180.82 L667.34,179.48 L669.02,178.19 L670.71,176.95 L672.39,175.76 L674.07,174.65 L675.76,173.60 L677.44,172.64 L679.12,171.75 L680.81,170.95 L682.49,170.23 L684.17,169.58 L685.86,169.01 L687.54,168.50 L689.23,168.06 L690.91,167.67 L692.59,167.32 L694.28,167.01 L695.96,166.73 L697.64,166.45 L699.33,166.18 L701.01,165.89 L702.69,165.58 L704.38,165.22 L706.06,164.82 L707.75,164.36 L709.43,163.82 L711.11,163.20 L712.80,162.49 L714.48,161.68 L716.16,160.76 L717.85,159.72 L719.53,158.58 L721.21,157.31 L722.90,155.94 L724.58,154.45 L726.26,152.85 L727.95,151.15 L729.63,149.36 L731.32,147.48 L733.00,145.52 L734.68,143.51 L736.37,141.43 L738.05,139.32 L739.73,137.18 L741.42,135.01 L743.10,132.85 L744.78,130.68 L746.47,128.53 L748.15,126.41 L749.84,124.32 L751.52,122.29 L753.20,120.31 L754.89,118.41 L756.57,116.61 L758.25,114.92 L759.94,113.36 L761.62,111.96 L763.30,110.76 L764.99,109.77 L766.67,109.04 L768.35,108.59 L770.04,108.47 L771.72,108.71 L773.41,109.34 L775.09,110.38 L776.77,111.87 L778.46,113.81 L780.14,116.22 L781.82,119.09 L783.51,122.40 L785.19,126.14 L786.87,130.28 L788.56,134.76 L790.24,139.55 L791.93,144.58 L793.61,149.79 L795.29,155.12 L796.98,160.49 L798.66,165.86 L800.34,171.14 L802.03,176.29 L803.71,181.25 L805.39,185.98 L807.08,190.45 L808.76,194.62 L810.44,198.50 L812.13,202.07 L813.81,205.33 L815.50,208.30 L817.18,210.99 L818.86,213.44 L820.55,215.65 L822.23,217.66 L823.91,219.49 L825.60,221.18 L827.28,222.73 L828.96,224.17 L830.65,225.50 L832.33,226.75 L834.02,227.91 L835.70,228.99 L837.38,229.99 L839.07,230.91 L840.75,231.75 L842.43,232.51 L844.12,233.20 L845.80,233.82 L847.48,234.36 L849.17,234.84 L850.85,235.26 L852.53,235.63 L854.22,235.95 L855.90,236.22 L857.59,236.47 L859.27,236.67 L860.95,236.86 L862.64,237.02 L864.32,237.16" stroke="#ff0000"/>
<path d="M527.60,244.94 L529.28,244.85 L530.97,244.74 L532.65,244.63 L534.33,244.52 L536.02,244.40 L537.70,244.27 L539.39,244.14 L541.07,244.00 L542.75,243.85 L544.44,243.70 L546.12,243.54 L547.80,243.37 L549.49,243.19 L551.17,243.00 L552.85,242.80 L554.54,242.60 L556.22,242.38 L557.90,242.16 L559.59,241.93 L561.27,241.68 L562.96,241.43 L564.64,241.16 L566.32,240.88 L568.01,240.60 L569.69,240.30 L571.37,239.99 L573.06,239.67 L574.74,239.34 L576.42,239.01 L578.11,238.67 L579.79,238.32 L581.48,237.96 L583.16,237.60 L584.84,237.23 L586.53,236.86 L588.21,236.48 L589.89,236.10 L591.58,235.71 L593.26,235.32 L594.94,234.92 L596.63,234.52 L598.31,234.11 L599.99,233.69 L601.68,233.27 L603.36,232.84 L605.05,232.40 L606.73,231.94 L608.41,231.47 L610.10,230.97 L611.78,230.46 L613.46,229.92 L615.15,229.35 L616.83,228.76 L618.51,228.12 L620.20,227.46 L621.88,226.75 L623.57,226.00 L625.25,225.20 L626.93,224.36 L628.62,223.46 L630.30,222.52 L631.98,221.52 L633.67,220.47 L635.35,219.37 L637.03,218.22 L638.72,217.01 L640.40,215.75 L642.08,214.44 L643.77,213.09 L645.45,211.69 L647.14,210.25 L648.82,208.78 L650.50,207.27 L652.19,205.74 L653.87,204.19 L655.55,202.63 L657.24,201.07 L658.92,199.51 L660.60,197.97 L662.29,196.45 L663.97,194.96 L665.66,193.51 L667.34,192.10 L669.02,190.75 L670.71,189.47 L672.39,188.25 L674.07,187.10 L675.76,186.03 L677.44,185.04 L679.12,184.14 L680.81,183.32 L682.49,182.58 L684.17,181.92 L685.86,181.34 L687.54,180.82 L689.23,180.37 L690.91,179.96 L692.59,179.60 L694.28,179.28 L695.96,178.97 L697.64,178.67 L699.33,178.36 L701.01,178.04 L702.69,177.69 L704.38,177.30 L706.06,176.87 L707.75,176.38 L709.43,175.82 L711.11,175.18 L712.80,174.46 L714.48,173.65 L716.16,172.75 L717.85,171.74 L719.53,170.64 L721.21,169.42 L722.90,168.09 L724.58,166.65 L726.26,165.11 L727.95,163.45 L729.63,161.70 L731.32,159.86 L733.00,157.93 L734.68,155.92 L736.37,153.85 L738.05,151.73 L739.73,149.58 L741.42,147.40 L743.10,145.21 L744.78,143.02 L746.47,140.85 L748.15,138.71 L749.84,136.62 L751.52,134.58 L753.20,132.61 L754.89,130.74 L756.57,128.96 L758.25,127.32 L759.94,125.82 L761.62,124.49 L763.30,123.36 L764.99,122.46 L766.67,121.81 L768.35,121.46 L770.04,121.43 L771.72,121.75 L773.41,122.45 L775.09,123.56 L776.77,125.09 L778.46,127.06 L780.14,129.47 L781.82,132.31 L783.51,135.58 L785.19,139.24 L786.87,143.27 L788.56,147.62 L790.24,152.25 L791.93,157.10 L793.61,162.12 L795.29,167.23 L796.98,172.38 L798.66,177.51 L800.34,182.55 L802.03,187.45 L803.71,192.16 L805.39,196.65 L807.08,200.87 L808.76,204.82 L810.44,208.46 L812.13,211.81 L813.81,214.87 L815.50,217.64 L817.18,220.15 L818.86,222.42 L820.55,224.47 L822.23,226.33 L823.91,228.02 L825.60,229.58 L827.28,231.01 L828.96,232.34 L830.65,233.57 L832.33,234.72 L834.02,235.80 L835.70,236.80 L837.38,237.72 L839.07,238.58 L840.75,239.35 L842.43,240.06 L844.12,240.69 L845.80,241.26 L847.48,241.75 L849.17,242.19 L850.85,242.58 L852.53,242.91 L854.22,243.20 L855.90,243.46 L857.59,243.68 L859.27,243.88 L860.95,244.05 L862.64,244.22 L864.32,244.36" stroke="#0000ff"/>
<path d="M527.60,249.08 L529.28,249.04 L530.97,249.01 L532.65,248.96 L534.33,248.92 L536.02,248.88 L537.70,248.83 L539.39,248.78 L541.07,248.73 L542.75,248.68 L544.44,248.63 L546.12,248.57 L547.80,248.51 L549.49,248.45 L551.17,248.39 L552.85,248.32 L554.54,248.25 L556.22,248.19 L557.90,248.11 L559.59,248.04 L561.27,247.96 L562.96,247.88 L564.64,247.80 L566.32,247.72 L568.01,247.63 L569.69,247.54 L571.37,247.45 L573.06,247.35 L574.74,247.25 L576.42,247.15 L578.11,247.05 L579.79,246.94 L581.48,246.83 L583.16,246.72 L584.84,246.60 L586.53,246.47 L588.21,246.35 L589.89,246.21 L591.58,246.07 L593.26,245.93 L594.94,245.78 L596.63,245.62 L598.31,245.45 L599.99,245.28 L601.68,245.09 L603.36,244.90 L605.05,244.69 L606.73,244.47 L608.41,244.24 L610.10,244.00 L611.78,243.74 L613.46,243.46 L615.15,243.17 L616.83,242.86 L618.51,242.53 L620.20,242.18 L621.88,241.81 L623.57,241.41 L625.25,240.99 L626.93,240.55 L628.62,240.08 L630.30,239.59 L631.98,239.07 L633.67,238.52 L635.35,237.95 L637.03,237.36 L638.72,236.73 L640.40,236.09 L642.08,235.42 L643.77,234.73 L645.45,234.02 L647.14,233.29 L648.82,232.54 L650.50,231.79 L652.19,231.02 L653.87,230.25 L655.55,229.48 L657.24,228.71 L658.92,227.94 L660.60,227.19 L662.29,226.45 L663.97,225.73 L665.66,225.03 L667.34,224.36 L669.02,223.72 L670.71,223.11 L672.39,222.53 L674.07,221.99 L675.76,221.49 L677.44,221.03 L679.12,220.62 L680.81,220.24 L682.49,219.90 L684.17,219.61 L685.86,219.35 L687.54,219.12 L689.23,218.93 L690.91,218.76 L692.59,218.61 L694.28,218.48 L695.96,218.36 L697.64,218.24 L699.33,218.11 L701.01,217.98 L702.69,217.84 L704.38,217.68 L706.06,217.49 L707.75,217.27 L709.43,217.01 L711.11,216.72 L712.80,216.38 L714.48,215.99 L716.16,215.56 L717.85,215.07 L719.53,214.53 L721.21,213.94 L722.90,213.29 L724.58,212.58 L726.26,211.82 L727.95,211.02 L729.63,210.16 L731.32,209.27 L733.00,208.33 L734.68,207.37 L736.37,206.39 L738.05,205.38 L739.73,204.37 L741.42,203.36 L743.10,202.35 L744.78,201.36 L746.47,200.39 L748.15,199.44 L749.84,198.53 L751.52,197.67 L753.20,196.85 L754.89,196.10 L756.57,195.40 L758.25,194.79 L759.94,194.25 L761.62,193.81 L763.30,193.47 L764.99,193.25 L766.67,193.15 L768.35,193.19 L770.04,193.38 L771.72,193.74 L773.41,194.26 L775.09,194.97 L776.77,195.86 L778.46,196.93 L780.14,198.20 L781.82,199.64 L783.51,201.26 L785.19,203.05 L786.87,204.98 L788.56,207.05 L790.24,209.22 L791.93,211.48 L793.61,213.80 L795.29,216.15 L796.98,218.51 L798.66,220.84 L800.34,223.14 L802.03,225.36 L803.71,227.49 L805.39,229.52 L807.08,231.42 L808.76,233.20 L810.44,234.84 L812.13,236.34 L813.81,237.71 L815.50,238.95 L817.18,240.06 L818.86,241.07 L820.55,241.97 L822.23,242.78 L823.91,243.51 L825.60,244.17 L827.28,244.77 L828.96,245.31 L830.65,245.80 L832.33,246.24 L834.02,246.64 L835.70,246.98 L837.38,247.29 L839.07,247.55 L840.75,247.77 L842.43,247.95 L844.12,248.09 L845.80,248.20 L847.48,248.27 L849.17,248.31 L850.85,248.33 L852.53,248.33 L854.22,248.31 L855.90,248.28 L857.59,248.24 L859.27,248.19 L860.95,248.15 L862.64,248.11 L864.32,248.08" stroke="#000080"/>
<path d="M527.60,247.51 L529.28,247.43 L530.97,247.35 L532.65,247.27 L534.33,247.19 L536.02,247.10 L537.70,247.01 L539.39,246.92 L541.07,246.83 L542.75,246.73 L544.44,246.63 L546.12,246.53 L547.80,246.43 L549.49,246.32 L551.17,246.22 L552.85,246.11 L554.54,245.99 L556.22,245.88 L557.90,245.76 L559.59,245.64 L561.27,245.52 L562.96,245.40 L564.64,245.27 L566.32,245.14 L568.01,245.01 L569.69,244.87 L571.37,244.74 L573.06,244.60 L574.74,244.45 L576.42,244.31 L578.11,244.16 L579.79,244.01 L581.48,243.85 L583.16,243.70 L584.84,243.53 L586.53,243.37 L588.21,243.20 L589.89,243.02 L591.58,242.84 L593.26,242.65 L594.94,242.46 L596.63,242.25 L598.31,242.04 L599.99,241.82 L601.68,241.59 L603.36,241.35 L605.05,241.10 L606.73,240.84 L608.41,240.55 L610.10,240.26 L611.78,239.94 L613.46,239.61 L615.15,239.25 L616.83,238.87 L618.51,238.47 L620.20,238.04 L621.88,237.58 L623.57,237.09 L625.25,236.58 L626.93,236.03 L628.62,235.45 L630.30,234.84 L631.98,234.19 L633.67,233.51 L635.35,232.79 L637.03,232.04 L638.72,231.25 L640.40,230.43 L642.08,229.58 L643.77,228.70 L645.45,227.79 L647.14,226.85 L648.82,225.89 L650.50,224.92 L652.19,223.92 L653.87,222.91 L655.55,221.90 L657.24,220.88 L658.92,219.87 L660.60,218.88 L662.29,217.90 L663.97,216.95 L665.66,216.03 L667.34,215.15 L669.02,214.30 L670.71,213.51 L672.39,212.76 L674.07,212.06 L675.76,211.43 L677.44,210.85 L679.12,210.33 L680.81,209.87 L682.49,209.47 L684.17,209.13 L685.86,208.83 L687.54,208.58 L689.23,208.37 L690.91,208.20 L692.59,208.05 L694.28,207.91 L695.96,207.79 L697.64,207.66 L699.33,207.53 L701.01,207.38 L702.69,207.20 L704.38,207.00 L706.06,206.76 L707.75,206.47 L709.43,206.14 L711.11,205.75 L712.80,205.30 L714.48,204.78 L716.16,204.19 L717.85,203.53 L719.53,202.80 L721.21,202.00 L722.90,201.12 L724.58,200.17 L726.26,199.14 L727.95,198.06 L729.63,196.91 L731.32,195.70 L733.00,194.45 L734.68,193.16 L736.37,191.84 L738.05,190.49 L739.73,189.12 L741.42,187.75 L743.10,186.38 L744.78,185.02 L746.47,183.67 L748.15,182.36 L749.84,181.07 L751.52,179.83 L753.20,178.63 L754.89,177.50 L756.57,176.44 L758.25,175.46 L759.94,174.57 L761.62,173.80 L763.30,173.15 L764.99,172.65 L766.67,172.31 L768.35,172.15 L770.04,172.19 L771.72,172.46 L773.41,172.95 L775.09,173.70 L776.77,174.71 L778.46,175.99 L780.14,177.54 L781.82,179.36 L783.51,181.44 L785.19,183.76 L786.87,186.30 L788.56,189.05 L790.24,191.96 L791.93,195.01 L793.61,198.16 L795.29,201.36 L796.98,204.59 L798.66,207.80 L800.34,210.95 L802.03,214.02 L803.71,216.97 L805.39,219.78 L807.08,222.42 L808.76,224.89 L810.44,227.18 L812.13,229.27 L813.81,231.18 L815.50,232.92 L817.18,234.49 L818.86,235.90 L820.55,237.18 L822.23,238.33 L823.91,239.38 L825.60,240.33 L827.28,241.20 L828.96,242.00 L830.65,242.74 L832.33,243.42 L834.02,244.05 L835.70,244.62 L837.38,245.13 L839.07,245.60 L840.75,246.00 L842.43,246.36 L844.12,246.66 L845.80,246.91 L847.48,247.11 L849.17,247.28 L850.85,247.40 L852.53,247.50 L854.22,247.57 L855.90,247.61 L857.59,247.64 L859.27,247.66 L860.95,247.66 L862.64,247.67 L864.32,247.67" stroke="#808000"/>
<path d="M527.60,248.50 L529.28,248.42 L530.97,248.32 L532.65,248.22 L534.33,248.11 L536.02,248.00 L537.70,247.87 L539.39,247.74 L541.07,247.61 L542.75,247.46 L544.44,247.31 L546.12,247.16 L547.80,246.99 L549.49,246.82 L551.17,246.65 L552.85,246.46 L554.54,246.28 L556.22,246.08 L557.90,245.88 L559.59,245.68 L561.27,245.47 L562.96,245.26 L564.64,245.04 L566.32,244.81 L568.01,244.58 L569.69,244.35 L571.37,244.11 L573.06,243.86 L574.74,243.62 L576.42,243.36 L578.11,243.11 L579.79,242.85 L581.48,242.58 L583.16,242.31 L584.84,242.03 L586.53,241.75 L588.21,241.47 L589.89,241.18 L591.58,240.88 L593.26,240.58 L594.94,240.27 L596.63,239.95 L598.31,239.62 L599.99,239.29 L601.68,238.94 L603.36,238.59 L605.05,238.22 L606.73,237.83 L608.41,237.43 L610.10,237.02 L611.78,236.58 L613.46,236.13 L615.15,235.65 L616.83,235.15 L618.51,234.62 L620.20,234.06 L621.88,233.47 L623.57,232.85 L625.25,232.20 L626.93,231.52 L628.62,230.79 L630.30,230.04 L631.98,229.24 L633.67,228.41 L635.35,227.54 L637.03,226.63 L638.72,225.68 L640.40,224.70 L642.08,223.69 L643.77,222.64 L645.45,221.56 L647.14,220.45 L648.82,219.32 L650.50,218.16 L652.19,216.99 L653.87,215.81 L655.55,214.62 L657.24,213.44 L658.92,212.28 L660.60,211.13 L662.29,210.01 L663.97,208.93 L665.66,207.88 L667.34,206.87 L669.02,205.91 L670.71,205.01 L672.39,204.16 L674.07,203.37 L675.76,202.64 L677.44,201.97 L679.12,201.37 L680.81,200.83 L682.49,200.35 L684.17,199.93 L685.86,199.56 L687.54,199.24 L689.23,198.96 L690.91,198.72 L692.59,198.50 L694.28,198.30 L695.96,198.11 L697.64,197.91 L699.33,197.70 L701.01,197.47 L702.69,197.22 L704.38,196.92 L706.06,196.59 L707.75,196.20 L709.43,195.76 L711.11,195.26 L712.80,194.68 L714.48,194.04 L716.16,193.32 L717.85,192.52 L719.53,191.64 L721.21,190.67 L722.90,189.63 L724.58,188.50 L726.26,187.29 L727.95,186.01 L729.63,184.66 L731.32,183.24 L733.00,181.77 L734.68,180.25 L736.37,178.70 L738.05,177.11 L739.73,175.51 L741.42,173.90 L743.10,172.30 L744.78,170.71 L746.47,169.14 L748.15,167.61 L749.84,166.13 L751.52,164.69 L753.20,163.33 L754.89,162.04 L756.57,160.84 L758.25,159.74 L759.94,158.76 L761.62,157.92 L763.30,157.23 L764.99,156.71 L766.67,156.40 L768.35,156.29 L770.04,156.43 L771.72,156.83 L773.41,157.51 L775.09,158.48 L776.77,159.76 L778.46,161.35 L780.14,163.27 L781.82,165.49 L783.51,168.02 L785.19,170.83 L786.87,173.90 L788.56,177.20 L790.24,180.69 L791.93,184.34 L793.61,188.10 L795.29,191.93 L796.98,195.78 L798.66,199.61 L800.34,203.37 L802.03,207.02 L803.71,210.53 L805.39,213.87 L807.08,217.03 L808.76,219.97 L810.44,222.69 L812.13,225.19 L813.81,227.47 L815.50,229.54 L817.18,231.42 L818.86,233.11 L820.55,234.64 L822.23,236.02 L823.91,237.28 L825.60,238.43 L827.28,239.48 L828.96,240.45 L830.65,241.34 L832.33,242.16 L834.02,242.92 L835.70,243.61 L837.38,244.23 L839.07,244.79 L840.75,245.29 L842.43,245.71 L844.12,246.07 L845.80,246.38 L847.48,246.62 L849.17,246.82 L850.85,246.97 L852.53,247.08 L854.22,247.16 L855.90,247.22 L857.59,247.26 L859.27,247.28 L860.95,247.30 L862.64,247.31 L864.32,247.32" stroke="#ff00ff"/>
<path d="M527.60,246.30 L529.28,246.21 L530.97,246.10 L532.65,245.99 L534.33,245.86 L536.02,245.72 L537.70,245.57 L539.39,245.40 L541.07,245.23 L542.75,245.05 L544.44,244.85 L546.12,244.65 L547.80,244.44 L549.49,244.22 L551.17,243.99 L552.85,243.75 L554.54,243.51 L556.22,243.26 L557.90,243.00 L559.59,242.74 L561.27,242.47 L562.96,242.19 L564.64,241.91 L566.32,241.63 L568.01,241.34 L569.69,241.05 L571.37,240.75 L573.06,240.45 L574.74,240.15 L576.42,239.84 L578.11,239.53 L579.79,239.22 L581.48,238.91 L583.16,238.59 L584.84,238.27 L586.53,237.95 L588.21,237.63 L589.89,237.30 L591.58,236.98 L593.26,236.65 L594.94,236.31 L596.63,235.97 L598.31,235.63 L599.99,235.28 L601.68,234.92 L603.36,234.55 L605.05,234.18 L606.73,233.79 L608.41,233.39 L610.10,232.97 L611.78,232.52 L613.46,232.06 L615.15,231.57 L616.83,231.05 L618.51,230.51 L620.20,229.93 L621.88,229.31 L623.57,228.66 L625.25,227.96 L626.93,227.23 L628.62,226.45 L630.30,225.62 L631.98,224.75 L633.67,223.82 L635.35,222.85 L637.03,221.84 L638.72,220.77 L640.40,219.65 L642.08,218.49 L643.77,217.29 L645.45,216.04 L647.14,214.75 L648.82,213.43 L650.50,212.08 L652.19,210.70 L653.87,209.29 L655.55,207.88 L657.24,206.45 L658.92,205.03 L660.60,203.62 L662.29,202.22 L663.97,200.85 L665.66,199.52 L667.34,198.23 L669.02,196.99 L670.71,195.81 L672.39,194.70 L674.07,193.65 L675.76,192.69 L677.44,191.80 L679.12,191.00 L680.81,190.29 L682.49,189.65 L684.17,189.09 L685.86,188.60 L687.54,188.18 L689.23,187.81 L690.91,187.50 L692.59,187.22 L694.28,186.97 L695.96,186.74 L697.64,186.50 L699.33,186.26 L701.01,186.01 L702.69,185.72 L704.38,185.41 L706.06,185.04 L707.75,184.62 L709.43,184.14 L711.11,183.59 L712.80,182.96 L714.48,182.25 L716.16,181.45 L717.85,180.57 L719.53,179.59 L721.21,178.51 L722.90,177.33 L724.58,176.06 L726.26,174.69 L727.95,173.22 L729.63,171.67 L731.32,170.04 L733.00,168.34 L734.68,166.58 L736.37,164.76 L738.05,162.90 L739.73,161.02 L741.42,159.11 L743.10,157.21 L744.78,155.31 L746.47,153.44 L748.15,151.60 L749.84,149.80 L751.52,148.06 L753.20,146.39 L754.89,144.80 L756.57,143.31 L758.25,141.93 L759.94,140.69 L761.62,139.61 L763.30,138.70 L764.99,137.99 L766.67,137.51 L768.35,137.28 L770.04,137.33 L771.72,137.68 L773.41,138.37 L775.09,139.40 L776.77,140.79 L778.46,142.56 L780.14,144.70 L781.82,147.22 L783.51,150.09 L785.19,153.30 L786.87,156.82 L788.56,160.62 L790.24,164.65 L791.93,168.86 L793.61,173.21 L795.29,177.64 L796.98,182.10 L798.66,186.53 L800.34,190.89 L802.03,195.12 L803.71,199.19 L805.39,203.06 L807.08,206.71 L808.76,210.11 L810.44,213.26 L812.13,216.15 L813.81,218.78 L815.50,221.17 L817.18,223.33 L818.86,225.29 L820.55,227.05 L822.23,228.66 L823.91,230.12 L825.60,231.46 L827.28,232.70 L828.96,233.85 L830.65,234.92 L832.33,235.92 L834.02,236.86 L835.70,237.73 L837.38,238.53 L839.07,239.27 L840.75,239.95 L842.43,240.57 L844.12,241.12 L845.80,241.61 L847.48,242.05 L849.17,242.43 L850.85,242.77 L852.53,243.07 L854.22,243.32 L855.90,243.55 L857.59,243.75 L859.27,243.93 L860.95,244.10 L862.64,244.25 L864.32,244.39" stroke="#00ff00"/>
</g>
<rect x="661.3" y="11.6" width="115.80" height="121.50" fill="none" stroke="#999999" stroke-width="1.3"/>
<line x1="664.3" y1="21.10" x2="708.4" y2="21.10" stroke="#000000" stroke-width="3.8" stroke-linecap="round"/>
<text transform="translate(713.32,25.82) scale(1.450,1)" font-family="'Liberation Sans', sans-serif" font-weight="bold" font-size="13.10" fill="#000" stroke="#000" stroke-width="0.3" stroke-linejoin="round">MB</text>
<line x1="664.3" y1="38.20" x2="708.4" y2="38.20" stroke="#ff0000" stroke-width="3.8" stroke-linecap="round"/>
<text transform="translate(713.41,42.92) scale(1.450,1)" font-family="'Liberation Sans', sans-serif" font-weight="bold" font-size="13.10" fill="#000" stroke="#000" stroke-width="0.3" stroke-linejoin="round">15 min</text>
<line x1="664.3" y1="55.30" x2="708.4" y2="55.30" stroke="#0000ff" stroke-width="3.8" stroke-linecap="round"/>
<text transform="translate(714.17,60.02) scale(1.450,1)" font-family="'Liberation Sans', sans-serif" font-weight="bold" font-size="13.10" fill="#000" stroke="#000" stroke-width="0.3" stroke-linejoin="round">30 min</text>
<line x1="664.3" y1="72.40" x2="708.4" y2="72.40" stroke="#000080" stroke-width="3.8" stroke-linecap="round"/>
<text transform="translate(714.32,77.12) scale(1.450,1)" font-family="'Liberation Sans', sans-serif" font-weight="bold" font-size="13.10" fill="#000" stroke="#000" stroke-width="0.3" stroke-linejoin="round">45 min</text>
<line x1="664.3" y1="89.50" x2="708.4" y2="89.50" stroke="#808000" stroke-width="3.8" stroke-linecap="round"/>
<text transform="translate(713.89,94.22) scale(1.450,1)" font-family="'Liberation Sans', sans-serif" font-weight="bold" font-size="13.10" fill="#000" stroke="#000" stroke-width="0.3" stroke-linejoin="round">60 min</text>
<line x1="664.3" y1="106.60" x2="708.4" y2="106.60" stroke="#ff00ff" stroke-width="3.8" stroke-linecap="round"/>
<text transform="translate(713.79,111.32) scale(1.450,1)" font-family="'Liberation Sans', sans-serif" font-weight="bold" font-size="13.10" fill="#000" stroke="#000" stroke-width="0.3" stroke-linejoin="round">75 min</text>
<line x1="664.3" y1="123.70" x2="708.4" y2="123.70" stroke="#00ff00" stroke-width="3.8" stroke-linecap="round"/>
<text transform="translate(713.94,128.42) scale(1.450,1)" font-family="'Liberation Sans', sans-serif" font-weight="bold" font-size="13.10" fill="#000" stroke="#000" stroke-width="0.3" stroke-linejoin="round">90 min</text>
<rect x="657.60" y="8.50" width="424.70" height="3.2" fill="#000"/>
<rect x="657.60" y="247.00" width="424.70" height="3.2" fill="#000"/>
<rect x="657.60" y="8.50" width="3.8" height="241.70" fill="#000"/>
<rect x="1078.50" y="8.50" width="3.8" height="241.70" fill="#000"/>
<rect x="657.90" y="248.60" width="3.2" height="4.40" fill="#000"/>
<text transform="translate(643.84,267.60) scale(1.410,1)" font-family="'Liberation Sans', sans-serif" font-weight="bold" font-size="13.40" fill="#000">520</text>
<rect x="699.99" y="248.60" width="3.2" height="2.30" fill="#000"/>
<rect x="742.08" y="248.60" width="3.2" height="4.40" fill="#000"/>
<text transform="translate(728.02,267.60) scale(1.410,1)" font-family="'Liberation Sans', sans-serif" font-weight="bold" font-size="13.40" fill="#000">560</text>
<rect x="784.17" y="248.60" width="3.2" height="2.30" fill="#000"/>
<rect x="826.26" y="248.60" width="3.2" height="4.40" fill="#000"/>
<text transform="translate(812.13,267.60) scale(1.410,1)" font-family="'Liberation Sans', sans-serif" font-weight="bold" font-size="13.40" fill="#000">600</text>
<rect x="868.35" y="248.60" width="3.2" height="2.30" fill="#000"/>
<rect x="910.44" y="248.60" width="3.2" height="4.40" fill="#000"/>
<text transform="translate(896.31,267.60) scale(1.410,1)" font-family="'Liberation Sans', sans-serif" font-weight="bold" font-size="13.40" fill="#000">640</text>
<rect x="952.53" y="248.60" width="3.2" height="2.30" fill="#000"/>
<rect x="994.62" y="248.60" width="3.2" height="4.40" fill="#000"/>
<text transform="translate(980.49,267.60) scale(1.410,1)" font-family="'Liberation Sans', sans-serif" font-weight="bold" font-size="13.40" fill="#000">680</text>
<rect x="1036.71" y="248.60" width="3.2" height="2.30" fill="#000"/>
<rect x="1078.80" y="248.60" width="3.2" height="4.40" fill="#000"/>
<text transform="translate(1064.62,267.60) scale(1.410,1)" font-family="'Liberation Sans', sans-serif" font-weight="bold" font-size="13.40" fill="#000">720</text>
<rect x="653.20" y="237.20" width="4.90" height="2.4" fill="#000"/>
<text transform="translate(621.49,242.44) scale(1.410,1)" font-family="'Liberation Sans', sans-serif" font-weight="bold" font-size="13.40" fill="#000">0.0</text>
<rect x="656.10" y="214.36" width="2.00" height="2.4" fill="#000"/>
<rect x="653.20" y="191.51" width="4.90" height="2.4" fill="#000"/>
<text transform="translate(621.40,196.75) scale(1.410,1)" font-family="'Liberation Sans', sans-serif" font-weight="bold" font-size="13.40" fill="#000">0.3</text>
<rect x="656.10" y="168.67" width="2.00" height="2.4" fill="#000"/>
<rect x="653.20" y="145.82" width="4.90" height="2.4" fill="#000"/>
<text transform="translate(621.40,151.06) scale(1.410,1)" font-family="'Liberation Sans', sans-serif" font-weight="bold" font-size="13.40" fill="#000">0.6</text>
<rect x="656.10" y="122.97" width="2.00" height="2.4" fill="#000"/>
<rect x="653.20" y="100.13" width="4.90" height="2.4" fill="#000"/>
<text transform="translate(621.40,105.37) scale(1.410,1)" font-family="'Liberation Sans', sans-serif" font-weight="bold" font-size="13.40" fill="#000">0.9</text>
<rect x="656.10" y="77.28" width="2.00" height="2.4" fill="#000"/>
<rect x="653.20" y="54.44" width="4.90" height="2.4" fill="#000"/>
<text transform="translate(621.49,59.68) scale(1.410,1)" font-family="'Liberation Sans', sans-serif" font-weight="bold" font-size="13.40" fill="#000">1.2</text>
<rect x="656.10" y="31.60" width="2.00" height="2.4" fill="#000"/>
<rect x="653.20" y="8.75" width="4.90" height="2.4" fill="#000"/>
<text transform="translate(621.26,13.99) scale(1.410,1)" font-family="'Liberation Sans', sans-serif" font-weight="bold" font-size="13.40" fill="#000">1.5</text>
<text transform="translate(963.97,25.07) scale(1.440,1)" font-family="'Liberation Sans', sans-serif" font-weight="bold" font-size="14.23" fill="#000">10% Cl/ZnO</text>
<text transform="translate(1008.41,41.34) scale(1.422,1)" font-family="'Liberation Sans', sans-serif" font-weight="bold" font-size="14.53" fill="#ff0000">pH 11</text>
<text transform="translate(646.18,295.13) scale(1.095,1)" font-family="'Liberation Serif', serif" font-weight="bold" font-size="24.79" fill="#0a0a14" stroke="#0a0a14" stroke-width="0.5" stroke-linejoin="round">(b)</text>
<text transform="translate(783.29,285.93) scale(1.385,1)" font-family="'Liberation Sans', sans-serif" font-weight="bold" font-size="18.45" fill="#000">Wavelength (nm)</text>
<text transform="translate(616.05,205.41) scale(1.448,1) rotate(-90)" font-family="'Liberation Sans', sans-serif" font-weight="bold" font-size="18.29" fill="#000">Absorbance (a.u)</text>
<clipPath id="clipc"><rect x="57.28" y="325.60" width="338.08" height="246.20"/></clipPath>
<g transform="scale(1.25,1)" clip-path="url(#clipc)" fill="none" stroke-width="3.6" stroke-linejoin="round">
<path d="M57.28,563.55 L58.97,563.24 L60.66,562.93 L62.35,562.60 L64.04,562.27 L65.73,561.92 L67.42,561.56 L69.11,561.20 L70.80,560.82 L72.49,560.43 L74.18,560.03 L75.87,559.62 L77.56,559.20 L79.26,558.77 L80.95,558.33 L82.64,557.88 L84.33,557.41 L86.02,556.94 L87.71,556.45 L89.40,555.96 L91.09,555.45 L92.78,554.93 L94.47,554.40 L96.16,553.86 L97.85,553.31 L99.54,552.74 L101.23,552.17 L102.92,551.58 L104.61,550.99 L106.30,550.38 L107.99,549.75 L109.68,549.12 L111.37,548.47 L113.06,547.80 L114.75,547.13 L116.44,546.43 L118.13,545.72 L119.82,544.99 L121.52,544.24 L123.21,543.48 L124.90,542.69 L126.59,541.87 L128.28,541.03 L129.97,540.16 L131.66,539.26 L133.35,538.33 L135.04,537.36 L136.73,536.36 L138.42,535.31 L140.11,534.21 L141.80,533.07 L143.49,531.88 L145.18,530.63 L146.87,529.32 L148.56,527.96 L150.25,526.53 L151.94,525.03 L153.63,523.46 L155.32,521.81 L157.01,520.10 L158.70,518.30 L160.39,516.44 L162.08,514.49 L163.78,512.47 L165.47,510.37 L167.16,508.20 L168.85,505.96 L170.54,503.65 L172.23,501.28 L173.92,498.86 L175.61,496.38 L177.30,493.87 L178.99,491.32 L180.68,488.75 L182.37,486.17 L184.06,483.59 L185.75,481.03 L187.44,478.48 L189.13,475.97 L190.82,473.51 L192.51,471.12 L194.20,468.79 L195.89,466.56 L197.58,464.42 L199.27,462.39 L200.96,460.48 L202.65,458.69 L204.34,457.04 L206.04,455.52 L207.73,454.15 L209.42,452.92 L211.11,451.82 L212.80,450.87 L214.49,450.04 L216.18,449.34 L217.87,448.75 L219.56,448.27 L221.25,447.87 L222.94,447.54 L224.63,447.26 L226.32,447.01 L228.01,446.78 L229.70,446.54 L231.39,446.27 L233.08,445.95 L234.77,445.55 L236.46,445.06 L238.15,444.45 L239.84,443.71 L241.53,442.82 L243.22,441.77 L244.91,440.55 L246.60,439.14 L248.30,437.54 L249.99,435.75 L251.68,433.76 L253.37,431.58 L255.06,429.22 L256.75,426.68 L258.44,423.98 L260.13,421.11 L261.82,418.11 L263.51,414.97 L265.20,411.71 L266.89,408.35 L268.58,404.90 L270.27,401.37 L271.96,397.77 L273.65,394.12 L275.34,390.43 L277.03,386.70 L278.72,382.96 L280.41,379.21 L282.10,375.49 L283.79,371.80 L285.48,368.19 L287.17,364.69 L288.86,361.35 L290.56,358.21 L292.25,355.34 L293.94,352.81 L295.63,350.69 L297.32,349.05 L299.01,347.99 L300.70,347.56 L302.39,347.89 L304.08,349.08 L305.77,351.19 L307.46,354.27 L309.15,358.34 L310.84,363.40 L312.53,369.41 L314.22,376.32 L315.91,384.06 L317.60,392.52 L319.29,401.59 L320.98,411.13 L322.67,421.00 L324.36,431.05 L326.05,441.12 L327.74,451.09 L329.43,460.81 L331.12,470.18 L332.82,479.09 L334.51,487.46 L336.20,495.26 L337.89,502.44 L339.58,508.99 L341.27,514.93 L342.96,520.28 L344.65,525.07 L346.34,529.37 L348.03,533.23 L349.72,536.69 L351.41,539.82 L353.10,542.65 L354.79,545.24 L356.48,547.61 L358.17,549.80 L359.86,551.81 L361.55,553.66 L363.24,555.35 L364.93,556.90 L366.62,558.30 L368.31,559.56 L370.00,560.68 L371.69,561.68 L373.38,562.55 L375.08,563.32 L376.77,563.98 L378.46,564.56 L380.15,565.06 L381.84,565.50 L383.53,565.88 L385.22,566.22 L386.91,566.52 L388.60,566.79 L390.29,567.03 L391.98,567.25 L393.67,567.45 L395.36,567.63" stroke="#000000"/>
<path d="M57.28,524.06 L58.97,523.89 L60.66,523.72 L62.35,523.54 L64.04,523.37 L65.73,523.20 L67.42,523.02 L69.11,522.85 L70.80,522.67 L72.49,522.50 L74.18,522.32 L75.87,522.15 L77.56,521.97 L79.26,521.79 L80.95,521.61 L82.64,521.43 L84.33,521.24 L86.02,521.06 L87.71,520.87 L89.40,520.69 L91.09,520.50 L92.78,520.30 L94.47,520.11 L96.16,519.90 L97.85,519.69 L99.54,519.47 L101.23,519.24 L102.92,519.00 L104.61,518.75 L106.30,518.48 L107.99,518.20 L109.68,517.91 L111.37,517.59 L113.06,517.26 L114.75,516.90 L116.44,516.53 L118.13,516.13 L119.82,515.70 L121.52,515.26 L123.21,514.79 L124.90,514.29 L126.59,513.78 L128.28,513.25 L129.97,512.70 L131.66,512.14 L133.35,511.57 L135.04,510.98 L136.73,510.39 L138.42,509.80 L140.11,509.19 L141.80,508.59 L143.49,507.99 L145.18,507.39 L146.87,506.79 L148.56,506.18 L150.25,505.57 L151.94,504.95 L153.63,504.31 L155.32,503.65 L157.01,502.97 L158.70,502.25 L160.39,501.51 L162.08,500.73 L163.78,499.92 L165.47,499.06 L167.16,498.16 L168.85,497.21 L170.54,496.23 L172.23,495.22 L173.92,494.17 L175.61,493.09 L177.30,491.97 L178.99,490.83 L180.68,489.67 L182.37,488.47 L184.06,487.26 L185.75,486.02 L187.44,484.77 L189.13,483.52 L190.82,482.27 L192.51,481.02 L194.20,479.81 L195.89,478.62 L197.58,477.47 L199.27,476.38 L200.96,475.34 L202.65,474.37 L204.34,473.48 L206.04,472.68 L207.73,471.97 L209.42,471.35 L211.11,470.82 L212.80,470.35 L214.49,469.96 L216.18,469.61 L217.87,469.32 L219.56,469.06 L221.25,468.83 L222.94,468.62 L224.63,468.43 L226.32,468.24 L228.01,468.04 L229.70,467.83 L231.39,467.60 L233.08,467.33 L234.77,467.01 L236.46,466.64 L238.15,466.21 L239.84,465.70 L241.53,465.11 L243.22,464.42 L244.91,463.65 L246.60,462.79 L248.30,461.85 L249.99,460.81 L251.68,459.69 L253.37,458.48 L255.06,457.18 L256.75,455.79 L258.44,454.33 L260.13,452.80 L261.82,451.22 L263.51,449.61 L265.20,447.98 L266.89,446.35 L268.58,444.73 L270.27,443.13 L271.96,441.57 L273.65,440.05 L275.34,438.59 L277.03,437.18 L278.72,435.83 L280.41,434.54 L282.10,433.33 L283.79,432.19 L285.48,431.13 L287.17,430.17 L288.86,429.32 L290.56,428.61 L292.25,428.03 L293.94,427.62 L295.63,427.38 L297.32,427.33 L299.01,427.51 L300.70,427.95 L302.39,428.72 L304.08,429.86 L305.77,431.44 L307.46,433.49 L309.15,436.01 L310.84,438.96 L312.53,442.30 L314.22,445.99 L315.91,449.98 L317.60,454.20 L319.29,458.57 L320.98,463.02 L322.67,467.47 L324.36,471.89 L326.05,476.24 L327.74,480.50 L329.43,484.63 L331.12,488.63 L332.82,492.46 L334.51,496.14 L336.20,499.64 L337.89,502.95 L339.58,506.07 L341.27,508.98 L342.96,511.68 L344.65,514.16 L346.34,516.43 L348.03,518.49 L349.72,520.37 L351.41,522.08 L353.10,523.62 L354.79,525.01 L356.48,526.26 L358.17,527.37 L359.86,528.36 L361.55,529.23 L363.24,530.00 L364.93,530.67 L366.62,531.26 L368.31,531.77 L370.00,532.20 L371.69,532.58 L373.38,532.90 L375.08,533.17 L376.77,533.41 L378.46,533.61 L380.15,533.79 L381.84,533.95 L383.53,534.11 L385.22,534.26 L386.91,534.39 L388.60,534.53 L390.29,534.66 L391.98,534.78 L393.67,534.91 L395.36,535.03" stroke="#ff0000"/>
<path d="M57.28,527.14 L58.97,527.00 L60.66,526.87 L62.35,526.74 L64.04,526.60 L65.73,526.47 L67.42,526.33 L69.11,526.19 L70.80,526.05 L72.49,525.91 L74.18,525.77 L75.87,525.62 L77.56,525.47 L79.26,525.32 L80.95,525.16 L82.64,524.99 L84.33,524.83 L86.02,524.66 L87.71,524.48 L89.40,524.30 L91.09,524.11 L92.78,523.91 L94.47,523.71 L96.16,523.49 L97.85,523.27 L99.54,523.04 L101.23,522.79 L102.92,522.53 L104.61,522.25 L106.30,521.97 L107.99,521.66 L109.68,521.34 L111.37,521.00 L113.06,520.64 L114.75,520.26 L116.44,519.85 L118.13,519.43 L119.82,518.98 L121.52,518.51 L123.21,518.02 L124.90,517.51 L126.59,516.98 L128.28,516.45 L129.97,515.91 L131.66,515.36 L133.35,514.82 L135.04,514.28 L136.73,513.75 L138.42,513.23 L140.11,512.72 L141.80,512.24 L143.49,511.78 L145.18,511.34 L146.87,510.93 L148.56,510.52 L150.25,510.12 L151.94,509.72 L153.63,509.29 L155.32,508.85 L157.01,508.36 L158.70,507.83 L160.39,507.25 L162.08,506.60 L163.78,505.88 L165.47,505.08 L167.16,504.21 L168.85,503.27 L170.54,502.27 L172.23,501.23 L173.92,500.15 L175.61,499.04 L177.30,497.91 L178.99,496.77 L180.68,495.62 L182.37,494.49 L184.06,493.37 L185.75,492.28 L187.44,491.22 L189.13,490.20 L190.82,489.21 L192.51,488.26 L194.20,487.35 L195.89,486.48 L197.58,485.66 L199.27,484.88 L200.96,484.15 L202.65,483.47 L204.34,482.83 L206.04,482.26 L207.73,481.73 L209.42,481.26 L211.11,480.83 L212.80,480.45 L214.49,480.09 L216.18,479.77 L217.87,479.48 L219.56,479.20 L221.25,478.94 L222.94,478.69 L224.63,478.44 L226.32,478.20 L228.01,477.95 L229.70,477.68 L231.39,477.40 L233.08,477.07 L234.77,476.70 L236.46,476.26 L238.15,475.74 L239.84,475.13 L241.53,474.41 L243.22,473.59 L244.91,472.69 L246.60,471.71 L248.30,470.66 L249.99,469.55 L251.68,468.39 L253.37,467.20 L255.06,465.97 L256.75,464.73 L258.44,463.49 L260.13,462.24 L261.82,461.01 L263.51,459.80 L265.20,458.62 L266.89,457.49 L268.58,456.41 L270.27,455.40 L271.96,454.46 L273.65,453.59 L275.34,452.81 L277.03,452.12 L278.72,451.52 L280.41,451.01 L282.10,450.60 L283.79,450.29 L285.48,450.08 L287.17,449.98 L288.86,449.99 L290.56,450.12 L292.25,450.36 L293.94,450.75 L295.63,451.30 L297.32,452.03 L299.01,452.98 L300.70,454.15 L302.39,455.58 L304.08,457.26 L305.77,459.14 L307.46,461.19 L309.15,463.39 L310.84,465.69 L312.53,468.07 L314.22,470.53 L315.91,473.05 L317.60,475.65 L319.29,478.32 L320.98,481.06 L322.67,483.86 L324.36,486.70 L326.05,489.57 L327.74,492.45 L329.43,495.33 L331.12,498.20 L332.82,501.02 L334.51,503.75 L336.20,506.38 L337.89,508.88 L339.58,511.24 L341.27,513.47 L342.96,515.56 L344.65,517.50 L346.34,519.30 L348.03,520.97 L349.72,522.51 L351.41,523.93 L353.10,525.25 L354.79,526.45 L356.48,527.55 L358.17,528.55 L359.86,529.45 L361.55,530.26 L363.24,530.99 L364.93,531.64 L366.62,532.21 L368.31,532.71 L370.00,533.15 L371.69,533.53 L373.38,533.85 L375.08,534.13 L376.77,534.37 L378.46,534.58 L380.15,534.76 L381.84,534.92 L383.53,535.07 L385.22,535.21 L386.91,535.33 L388.60,535.45 L390.29,535.55 L391.98,535.66 L393.67,535.76 L395.36,535.85" stroke="#0000ff"/>
<path d="M57.28,536.03 L58.97,535.87 L60.66,535.71 L62.35,535.56 L64.04,535.40 L65.73,535.24 L67.42,535.08 L69.11,534.92 L70.80,534.76 L72.49,534.61 L74.18,534.45 L75.87,534.29 L77.56,534.13 L79.26,533.97 L80.95,533.81 L82.64,533.65 L84.33,533.49 L86.02,533.33 L87.71,533.17 L89.40,533.01 L91.09,532.85 L92.78,532.69 L94.47,532.52 L96.16,532.35 L97.85,532.17 L99.54,531.99 L101.23,531.80 L102.92,531.60 L104.61,531.39 L106.30,531.16 L107.99,530.93 L109.68,530.68 L111.37,530.42 L113.06,530.14 L114.75,529.84 L116.44,529.52 L118.13,529.19 L119.82,528.83 L121.52,528.45 L123.21,528.05 L124.90,527.63 L126.59,527.19 L128.28,526.74 L129.97,526.27 L131.66,525.79 L133.35,525.30 L135.04,524.80 L136.73,524.29 L138.42,523.78 L140.11,523.27 L141.80,522.75 L143.49,522.23 L145.18,521.72 L146.87,521.20 L148.56,520.69 L150.25,520.17 L151.94,519.65 L153.63,519.12 L155.32,518.58 L157.01,518.03 L158.70,517.46 L160.39,516.88 L162.08,516.29 L163.78,515.67 L165.47,515.04 L167.16,514.38 L168.85,513.71 L170.54,513.03 L172.23,512.32 L173.92,511.61 L175.61,510.89 L177.30,510.16 L178.99,509.43 L180.68,508.69 L182.37,507.95 L184.06,507.21 L185.75,506.47 L187.44,505.74 L189.13,505.02 L190.82,504.30 L192.51,503.61 L194.20,502.93 L195.89,502.28 L197.58,501.65 L199.27,501.05 L200.96,500.48 L202.65,499.95 L204.34,499.46 L206.04,499.01 L207.73,498.61 L209.42,498.25 L211.11,497.92 L212.80,497.63 L214.49,497.36 L216.18,497.11 L217.87,496.87 L219.56,496.64 L221.25,496.41 L222.94,496.18 L224.63,495.94 L226.32,495.69 L228.01,495.41 L229.70,495.11 L231.39,494.78 L233.08,494.43 L234.77,494.04 L236.46,493.63 L238.15,493.18 L239.84,492.70 L241.53,492.19 L243.22,491.64 L244.91,491.05 L246.60,490.44 L248.30,489.78 L249.99,489.09 L251.68,488.37 L253.37,487.61 L255.06,486.81 L256.75,485.97 L258.44,485.11 L260.13,484.23 L261.82,483.35 L263.51,482.48 L265.20,481.63 L266.89,480.81 L268.58,480.04 L270.27,479.32 L271.96,478.68 L273.65,478.10 L275.34,477.61 L277.03,477.18 L278.72,476.83 L280.41,476.56 L282.10,476.36 L283.79,476.23 L285.48,476.18 L287.17,476.21 L288.86,476.32 L290.56,476.52 L292.25,476.81 L293.94,477.20 L295.63,477.69 L297.32,478.30 L299.01,479.03 L300.70,479.88 L302.39,480.87 L304.08,481.99 L305.77,483.24 L307.46,484.61 L309.15,486.10 L310.84,487.71 L312.53,489.43 L314.22,491.26 L315.91,493.19 L317.60,495.22 L319.29,497.34 L320.98,499.54 L322.67,501.83 L324.36,504.19 L326.05,506.62 L327.74,509.11 L329.43,511.67 L331.12,514.27 L332.82,516.86 L334.51,519.41 L336.20,521.86 L337.89,524.17 L339.58,526.33 L341.27,528.31 L342.96,530.10 L344.65,531.68 L346.34,533.07 L348.03,534.29 L349.72,535.35 L351.41,536.28 L353.10,537.10 L354.79,537.81 L356.48,538.43 L358.17,538.97 L359.86,539.43 L361.55,539.83 L363.24,540.18 L364.93,540.48 L366.62,540.75 L368.31,540.99 L370.00,541.22 L371.69,541.42 L373.38,541.60 L375.08,541.76 L376.77,541.91 L378.46,542.04 L380.15,542.16 L381.84,542.27 L383.53,542.37 L385.22,542.46 L386.91,542.55 L388.60,542.63 L390.29,542.70 L391.98,542.77 L393.67,542.84 L395.36,542.91" stroke="#00ff00"/>
<path d="M57.28,545.57 L58.97,545.40 L60.66,545.23 L62.35,545.05 L64.04,544.88 L65.73,544.71 L67.42,544.54 L69.11,544.37 L70.80,544.20 L72.49,544.03 L74.18,543.86 L75.87,543.69 L77.56,543.52 L79.26,543.35 L80.95,543.19 L82.64,543.02 L84.33,542.86 L86.02,542.69 L87.71,542.53 L89.40,542.37 L91.09,542.21 L92.78,542.04 L94.47,541.88 L96.16,541.72 L97.85,541.55 L99.54,541.39 L101.23,541.21 L102.92,541.04 L104.61,540.85 L106.30,540.66 L107.99,540.47 L109.68,540.27 L111.37,540.05 L113.06,539.83 L114.75,539.60 L116.44,539.36 L118.13,539.10 L119.82,538.84 L121.52,538.56 L123.21,538.26 L124.90,537.96 L126.59,537.64 L128.28,537.32 L129.97,536.99 L131.66,536.65 L133.35,536.30 L135.04,535.95 L136.73,535.60 L138.42,535.24 L140.11,534.88 L141.80,534.52 L143.49,534.16 L145.18,533.80 L146.87,533.45 L148.56,533.09 L150.25,532.73 L151.94,532.37 L153.63,532.00 L155.32,531.63 L157.01,531.25 L158.70,530.86 L160.39,530.46 L162.08,530.04 L163.78,529.62 L165.47,529.18 L167.16,528.72 L168.85,528.26 L170.54,527.78 L172.23,527.30 L173.92,526.81 L175.61,526.31 L177.30,525.81 L178.99,525.31 L180.68,524.81 L182.37,524.32 L184.06,523.82 L185.75,523.34 L187.44,522.86 L189.13,522.38 L190.82,521.92 L192.51,521.47 L194.20,521.02 L195.89,520.59 L197.58,520.18 L199.27,519.78 L200.96,519.39 L202.65,519.02 L204.34,518.67 L206.04,518.34 L207.73,518.02 L209.42,517.72 L211.11,517.44 L212.80,517.17 L214.49,516.91 L216.18,516.65 L217.87,516.40 L219.56,516.14 L221.25,515.88 L222.94,515.62 L224.63,515.34 L226.32,515.05 L228.01,514.75 L229.70,514.43 L231.39,514.09 L233.08,513.73 L234.77,513.34 L236.46,512.93 L238.15,512.51 L239.84,512.07 L241.53,511.63 L243.22,511.19 L244.91,510.74 L246.60,510.30 L248.30,509.86 L249.99,509.44 L251.68,509.03 L253.37,508.65 L255.06,508.28 L256.75,507.94 L258.44,507.63 L260.13,507.36 L261.82,507.12 L263.51,506.92 L265.20,506.76 L266.89,506.65 L268.58,506.58 L270.27,506.57 L271.96,506.61 L273.65,506.71 L275.34,506.87 L277.03,507.09 L278.72,507.37 L280.41,507.71 L282.10,508.10 L283.79,508.53 L285.48,509.01 L287.17,509.53 L288.86,510.09 L290.56,510.68 L292.25,511.30 L293.94,511.94 L295.63,512.61 L297.32,513.30 L299.01,514.02 L300.70,514.78 L302.39,515.58 L304.08,516.44 L305.77,517.34 L307.46,518.32 L309.15,519.35 L310.84,520.45 L312.53,521.60 L314.22,522.80 L315.91,524.04 L317.60,525.34 L319.29,526.67 L320.98,528.04 L322.67,529.43 L324.36,530.84 L326.05,532.25 L327.74,533.65 L329.43,535.03 L331.12,536.36 L332.82,537.65 L334.51,538.86 L336.20,539.98 L337.89,541.01 L339.58,541.95 L341.27,542.81 L342.96,543.59 L344.65,544.30 L346.34,544.94 L348.03,545.52 L349.72,546.04 L351.41,546.50 L353.10,546.90 L354.79,547.24 L356.48,547.55 L358.17,547.81 L359.86,548.04 L361.55,548.24 L363.24,548.42 L364.93,548.59 L366.62,548.74 L368.31,548.89 L370.00,549.03 L371.69,549.16 L373.38,549.29 L375.08,549.41 L376.77,549.52 L378.46,549.62 L380.15,549.72 L381.84,549.80 L383.53,549.88 L385.22,549.96 L386.91,550.02 L388.60,550.08 L390.29,550.14 L391.98,550.19 L393.67,550.25 L395.36,550.30" stroke="#ff00ff"/>
<path d="M57.28,556.17 L58.97,556.06 L60.66,555.95 L62.35,555.85 L64.04,555.74 L65.73,555.63 L67.42,555.51 L69.11,555.40 L70.80,555.28 L72.49,555.16 L74.18,555.04 L75.87,554.91 L77.56,554.78 L79.26,554.64 L80.95,554.49 L82.64,554.34 L84.33,554.19 L86.02,554.03 L87.71,553.85 L89.40,553.68 L91.09,553.49 L92.78,553.30 L94.47,553.09 L96.16,552.89 L97.85,552.67 L99.54,552.45 L101.23,552.23 L102.92,552.00 L104.61,551.76 L106.30,551.52 L107.99,551.28 L109.68,551.03 L111.37,550.79 L113.06,550.54 L114.75,550.29 L116.44,550.03 L118.13,549.78 L119.82,549.53 L121.52,549.27 L123.21,549.02 L124.90,548.77 L126.59,548.51 L128.28,548.26 L129.97,548.00 L131.66,547.73 L133.35,547.47 L135.04,547.20 L136.73,546.92 L138.42,546.64 L140.11,546.36 L141.80,546.07 L143.49,545.77 L145.18,545.46 L146.87,545.15 L148.56,544.83 L150.25,544.51 L151.94,544.18 L153.63,543.85 L155.32,543.53 L157.01,543.21 L158.70,542.89 L160.39,542.58 L162.08,542.27 L163.78,541.97 L165.47,541.68 L167.16,541.40 L168.85,541.13 L170.54,540.86 L172.23,540.59 L173.92,540.33 L175.61,540.06 L177.30,539.79 L178.99,539.51 L180.68,539.22 L182.37,538.93 L184.06,538.62 L185.75,538.30 L187.44,537.97 L189.13,537.62 L190.82,537.27 L192.51,536.91 L194.20,536.55 L195.89,536.18 L197.58,535.82 L199.27,535.46 L200.96,535.10 L202.65,534.76 L204.34,534.42 L206.04,534.10 L207.73,533.79 L209.42,533.50 L211.11,533.22 L212.80,532.95 L214.49,532.69 L216.18,532.44 L217.87,532.20 L219.56,531.96 L221.25,531.73 L222.94,531.50 L224.63,531.27 L226.32,531.04 L228.01,530.81 L229.70,530.57 L231.39,530.33 L233.08,530.08 L234.77,529.83 L236.46,529.57 L238.15,529.31 L239.84,529.05 L241.53,528.79 L243.22,528.53 L244.91,528.27 L246.60,528.02 L248.30,527.77 L249.99,527.53 L251.68,527.31 L253.37,527.09 L255.06,526.88 L256.75,526.69 L258.44,526.52 L260.13,526.37 L261.82,526.24 L263.51,526.14 L265.20,526.06 L266.89,526.02 L268.58,526.01 L270.27,526.04 L271.96,526.11 L273.65,526.22 L275.34,526.38 L277.03,526.59 L278.72,526.84 L280.41,527.14 L282.10,527.49 L283.79,527.88 L285.48,528.31 L287.17,528.79 L288.86,529.30 L290.56,529.86 L292.25,530.45 L293.94,531.09 L295.63,531.76 L297.32,532.46 L299.01,533.20 L300.70,533.97 L302.39,534.77 L304.08,535.60 L305.77,536.45 L307.46,537.33 L309.15,538.22 L310.84,539.13 L312.53,540.06 L314.22,541.00 L315.91,541.94 L317.60,542.89 L319.29,543.85 L320.98,544.80 L322.67,545.75 L324.36,546.68 L326.05,547.61 L327.74,548.51 L329.43,549.38 L331.12,550.23 L332.82,551.04 L334.51,551.82 L336.20,552.55 L337.89,553.23 L339.58,553.87 L341.27,554.45 L342.96,554.98 L344.65,555.44 L346.34,555.85 L348.03,556.20 L349.72,556.51 L351.41,556.78 L353.10,557.01 L354.79,557.21 L356.48,557.39 L358.17,557.55 L359.86,557.69 L361.55,557.82 L363.24,557.94 L364.93,558.05 L366.62,558.14 L368.31,558.23 L370.00,558.31 L371.69,558.38 L373.38,558.44 L375.08,558.50 L376.77,558.56 L378.46,558.61 L380.15,558.66 L381.84,558.71 L383.53,558.75 L385.22,558.79 L386.91,558.83 L388.60,558.86 L390.29,558.90 L391.98,558.93 L393.67,558.96 L395.36,559.00" stroke="#808000"/>
<path d="M57.28,562.87 L58.97,562.79 L60.66,562.70 L62.35,562.62 L64.04,562.54 L65.73,562.45 L67.42,562.37 L69.11,562.28 L70.80,562.20 L72.49,562.11 L74.18,562.02 L75.87,561.92 L77.56,561.83 L79.26,561.73 L80.95,561.63 L82.64,561.53 L84.33,561.43 L86.02,561.32 L87.71,561.21 L89.40,561.09 L91.09,560.97 L92.78,560.85 L94.47,560.72 L96.16,560.59 L97.85,560.45 L99.54,560.32 L101.23,560.17 L102.92,560.03 L104.61,559.88 L106.30,559.73 L107.99,559.57 L109.68,559.41 L111.37,559.25 L113.06,559.08 L114.75,558.91 L116.44,558.74 L118.13,558.57 L119.82,558.39 L121.52,558.21 L123.21,558.02 L124.90,557.83 L126.59,557.65 L128.28,557.45 L129.97,557.26 L131.66,557.07 L133.35,556.87 L135.04,556.67 L136.73,556.47 L138.42,556.27 L140.11,556.08 L141.80,555.88 L143.49,555.68 L145.18,555.48 L146.87,555.28 L148.56,555.09 L150.25,554.89 L151.94,554.70 L153.63,554.51 L155.32,554.32 L157.01,554.12 L158.70,553.93 L160.39,553.74 L162.08,553.55 L163.78,553.36 L165.47,553.17 L167.16,552.98 L168.85,552.78 L170.54,552.59 L172.23,552.39 L173.92,552.19 L175.61,551.98 L177.30,551.77 L178.99,551.56 L180.68,551.35 L182.37,551.13 L184.06,550.91 L185.75,550.68 L187.44,550.45 L189.13,550.21 L190.82,549.98 L192.51,549.74 L194.20,549.49 L195.89,549.25 L197.58,549.01 L199.27,548.78 L200.96,548.54 L202.65,548.31 L204.34,548.08 L206.04,547.86 L207.73,547.65 L209.42,547.44 L211.11,547.23 L212.80,547.04 L214.49,546.84 L216.18,546.65 L217.87,546.46 L219.56,546.27 L221.25,546.08 L222.94,545.89 L224.63,545.70 L226.32,545.51 L228.01,545.32 L229.70,545.13 L231.39,544.93 L233.08,544.73 L234.77,544.52 L236.46,544.31 L238.15,544.11 L239.84,543.90 L241.53,543.70 L243.22,543.51 L244.91,543.33 L246.60,543.16 L248.30,543.00 L249.99,542.86 L251.68,542.73 L253.37,542.63 L255.06,542.55 L256.75,542.49 L258.44,542.46 L260.13,542.45 L261.82,542.47 L263.51,542.52 L265.20,542.60 L266.89,542.72 L268.58,542.86 L270.27,543.05 L271.96,543.27 L273.65,543.52 L275.34,543.82 L277.03,544.16 L278.72,544.53 L280.41,544.94 L282.10,545.38 L283.79,545.84 L285.48,546.33 L287.17,546.84 L288.86,547.36 L290.56,547.90 L292.25,548.45 L293.94,549.01 L295.63,549.58 L297.32,550.14 L299.01,550.70 L300.70,551.27 L302.39,551.82 L304.08,552.38 L305.77,552.92 L307.46,553.45 L309.15,553.98 L310.84,554.49 L312.53,554.98 L314.22,555.46 L315.91,555.92 L317.60,556.36 L319.29,556.78 L320.98,557.17 L322.67,557.54 L324.36,557.90 L326.05,558.26 L327.74,558.63 L329.43,559.01 L331.12,559.41 L332.82,559.83 L334.51,560.26 L336.20,560.68 L337.89,561.09 L339.58,561.49 L341.27,561.85 L342.96,562.18 L344.65,562.46 L346.34,562.70 L348.03,562.90 L349.72,563.07 L351.41,563.21 L353.10,563.31 L354.79,563.40 L356.48,563.46 L358.17,563.51 L359.86,563.54 L361.55,563.57 L363.24,563.59 L364.93,563.61 L366.62,563.63 L368.31,563.65 L370.00,563.68 L371.69,563.71 L373.38,563.75 L375.08,563.78 L376.77,563.83 L378.46,563.87 L380.15,563.92 L381.84,563.97 L383.53,564.02 L385.22,564.07 L386.91,564.12 L388.60,564.18 L390.29,564.24 L391.98,564.29 L393.67,564.35 L395.36,564.41" stroke="#000080"/>
</g>
<rect x="73.6" y="327.2" width="106.20" height="116.20" fill="none" stroke="#999999" stroke-width="1.3"/>
<line x1="76.5" y1="337.60" x2="116.3" y2="337.60" stroke="#000000" stroke-width="3.8" stroke-linecap="round"/>
<text transform="translate(121.10,342.10) scale(1.420,1)" font-family="'Liberation Sans', sans-serif" font-weight="bold" font-size="12.50" fill="#000" stroke="#000" stroke-width="0.3" stroke-linejoin="round">MB</text>
<line x1="76.5" y1="353.77" x2="116.3" y2="353.77" stroke="#ff0000" stroke-width="3.8" stroke-linecap="round"/>
<text transform="translate(121.19,358.27) scale(1.420,1)" font-family="'Liberation Sans', sans-serif" font-weight="bold" font-size="12.50" fill="#000" stroke="#000" stroke-width="0.3" stroke-linejoin="round">15 min</text>
<line x1="76.5" y1="369.94" x2="116.3" y2="369.94" stroke="#0000ff" stroke-width="3.8" stroke-linecap="round"/>
<text transform="translate(121.90,374.44) scale(1.420,1)" font-family="'Liberation Sans', sans-serif" font-weight="bold" font-size="12.50" fill="#000" stroke="#000" stroke-width="0.3" stroke-linejoin="round">30 min</text>
<line x1="76.5" y1="386.11" x2="116.3" y2="386.11" stroke="#00ff00" stroke-width="3.8" stroke-linecap="round"/>
<text transform="translate(122.03,390.61) scale(1.420,1)" font-family="'Liberation Sans', sans-serif" font-weight="bold" font-size="12.50" fill="#000" stroke="#000" stroke-width="0.3" stroke-linejoin="round">45 min</text>
<line x1="76.5" y1="402.28" x2="116.3" y2="402.28" stroke="#ff00ff" stroke-width="3.8" stroke-linecap="round"/>
<text transform="translate(121.63,406.78) scale(1.420,1)" font-family="'Liberation Sans', sans-serif" font-weight="bold" font-size="12.50" fill="#000" stroke="#000" stroke-width="0.3" stroke-linejoin="round">60 min</text>
<line x1="76.5" y1="418.45" x2="116.3" y2="418.45" stroke="#808000" stroke-width="3.8" stroke-linecap="round"/>
<text transform="translate(121.55,422.95) scale(1.420,1)" font-family="'Liberation Sans', sans-serif" font-weight="bold" font-size="12.50" fill="#000" stroke="#000" stroke-width="0.3" stroke-linejoin="round">75 min</text>
<line x1="76.5" y1="434.62" x2="116.3" y2="434.62" stroke="#000080" stroke-width="3.8" stroke-linecap="round"/>
<text transform="translate(121.68,439.12) scale(1.420,1)" font-family="'Liberation Sans', sans-serif" font-weight="bold" font-size="12.50" fill="#000" stroke="#000" stroke-width="0.3" stroke-linejoin="round">90 min</text>
<rect x="69.70" y="324.00" width="426.40" height="3.2" fill="#000"/>
<rect x="69.70" y="570.20" width="426.40" height="3.2" fill="#000"/>
<rect x="69.70" y="324.00" width="3.8" height="249.40" fill="#000"/>
<rect x="492.30" y="324.00" width="3.8" height="249.40" fill="#000"/>
<rect x="70.00" y="571.80" width="3.2" height="4.40" fill="#000"/>
<text transform="translate(55.94,590.80) scale(1.410,1)" font-family="'Liberation Sans', sans-serif" font-weight="bold" font-size="13.40" fill="#000">520</text>
<rect x="112.26" y="571.80" width="3.2" height="2.30" fill="#000"/>
<rect x="154.52" y="571.80" width="3.2" height="4.40" fill="#000"/>
<text transform="translate(140.46,590.80) scale(1.410,1)" font-family="'Liberation Sans', sans-serif" font-weight="bold" font-size="13.40" fill="#000">560</text>
<rect x="196.78" y="571.80" width="3.2" height="2.30" fill="#000"/>
<rect x="239.04" y="571.80" width="3.2" height="4.40" fill="#000"/>
<text transform="translate(224.91,590.80) scale(1.410,1)" font-family="'Liberation Sans', sans-serif" font-weight="bold" font-size="13.40" fill="#000">600</text>
<rect x="281.30" y="571.80" width="3.2" height="2.30" fill="#000"/>
<rect x="323.56" y="571.80" width="3.2" height="4.40" fill="#000"/>
<text transform="translate(309.43,590.80) scale(1.410,1)" font-family="'Liberation Sans', sans-serif" font-weight="bold" font-size="13.40" fill="#000">640</text>
<rect x="365.82" y="571.80" width="3.2" height="2.30" fill="#000"/>
<rect x="408.08" y="571.80" width="3.2" height="4.40" fill="#000"/>
<text transform="translate(393.95,590.80) scale(1.410,1)" font-family="'Liberation Sans', sans-serif" font-weight="bold" font-size="13.40" fill="#000">680</text>
<rect x="450.34" y="571.80" width="3.2" height="2.30" fill="#000"/>
<rect x="492.60" y="571.80" width="3.2" height="4.40" fill="#000"/>
<text transform="translate(478.42,590.80) scale(1.410,1)" font-family="'Liberation Sans', sans-serif" font-weight="bold" font-size="13.40" fill="#000">720</text>
<rect x="65.30" y="570.60" width="4.90" height="2.4" fill="#000"/>
<text transform="translate(33.59,575.84) scale(1.410,1)" font-family="'Liberation Sans', sans-serif" font-weight="bold" font-size="13.40" fill="#000">0.0</text>
<rect x="68.20" y="545.97" width="2.00" height="2.4" fill="#000"/>
<rect x="65.30" y="521.34" width="4.90" height="2.4" fill="#000"/>
<text transform="translate(33.50,526.58) scale(1.410,1)" font-family="'Liberation Sans', sans-serif" font-weight="bold" font-size="13.40" fill="#000">0.3</text>
<rect x="68.20" y="496.71" width="2.00" height="2.4" fill="#000"/>
<rect x="65.30" y="472.08" width="4.90" height="2.4" fill="#000"/>
<text transform="translate(33.50,477.32) scale(1.410,1)" font-family="'Liberation Sans', sans-serif" font-weight="bold" font-size="13.40" fill="#000">0.6</text>
<rect x="68.20" y="447.45" width="2.00" height="2.4" fill="#000"/>
<rect x="65.30" y="422.82" width="4.90" height="2.4" fill="#000"/>
<text transform="translate(33.50,428.06) scale(1.410,1)" font-family="'Liberation Sans', sans-serif" font-weight="bold" font-size="13.40" fill="#000">0.9</text>
<rect x="68.20" y="398.19" width="2.00" height="2.4" fill="#000"/>
<rect x="65.30" y="373.56" width="4.90" height="2.4" fill="#000"/>
<text transform="translate(33.59,378.80) scale(1.410,1)" font-family="'Liberation Sans', sans-serif" font-weight="bold" font-size="13.40" fill="#000">1.2</text>
<rect x="68.20" y="348.93" width="2.00" height="2.4" fill="#000"/>
<rect x="65.30" y="324.30" width="4.90" height="2.4" fill="#000"/>
<text transform="translate(33.36,329.54) scale(1.410,1)" font-family="'Liberation Sans', sans-serif" font-weight="bold" font-size="13.40" fill="#000">1.5</text>
<text transform="translate(374.55,341.56) scale(1.437,1)" font-family="'Liberation Sans', sans-serif" font-weight="bold" font-size="14.50" fill="#000">15% Cl/ZnO</text>
<text transform="translate(412.71,358.36) scale(1.433,1)" font-family="'Liberation Sans', sans-serif" font-weight="bold" font-size="14.41" fill="#ff0000">pH 11</text>
<text transform="translate(57.06,612.88) scale(1.103,1)" font-family="'Liberation Serif', serif" font-weight="bold" font-size="25.01" fill="#0a0a14" stroke="#0a0a14" stroke-width="0.5" stroke-linejoin="round">(c)</text>
<text transform="translate(195.99,608.50) scale(1.418,1)" font-family="'Liberation Sans', sans-serif" font-weight="bold" font-size="18.13" fill="#000">Wavelength (nm)</text>
<text transform="translate(24.69,521.51) scale(1.409,1) rotate(-90)" font-family="'Liberation Sans', sans-serif" font-weight="bold" font-size="18.34" fill="#000">Absorbance (a.u)</text>
<text transform="translate(82.57,477.97) scale(1.023,1)" font-family="'Liberation Serif', serif" font-weight="bold" font-size="28.87" fill="#0a0a14" stroke="#0a0a14" stroke-width="0.5" stroke-linejoin="round">(c)</text>
<clipPath id="clipd"><rect x="526.00" y="324.00" width="337.68" height="247.00"/></clipPath>
<g transform="scale(1.25,1)" clip-path="url(#clipd)" fill="none" stroke-width="3.6" stroke-linejoin="round">
<path d="M526.00,562.71 L527.69,562.40 L529.38,562.09 L531.07,561.76 L532.75,561.42 L534.44,561.07 L536.13,560.71 L537.82,560.34 L539.51,559.96 L541.20,559.57 L542.88,559.17 L544.57,558.76 L546.26,558.34 L547.95,557.91 L549.64,557.46 L551.33,557.01 L553.01,556.54 L554.70,556.06 L556.39,555.58 L558.08,555.08 L559.77,554.57 L561.46,554.05 L563.14,553.52 L564.83,552.97 L566.52,552.42 L568.21,551.85 L569.90,551.27 L571.59,550.69 L573.28,550.08 L574.96,549.47 L576.65,548.85 L578.34,548.21 L580.03,547.55 L581.72,546.89 L583.41,546.21 L585.09,545.51 L586.78,544.79 L588.47,544.06 L590.16,543.31 L591.85,542.54 L593.54,541.74 L595.22,540.93 L596.91,540.08 L598.60,539.21 L600.29,538.31 L601.98,537.37 L603.67,536.40 L605.35,535.38 L607.04,534.33 L608.73,533.23 L610.42,532.08 L612.11,530.88 L613.80,529.63 L615.49,528.32 L617.17,526.94 L618.86,525.50 L620.55,524.00 L622.24,522.42 L623.93,520.77 L625.62,519.04 L627.30,517.24 L628.99,515.37 L630.68,513.41 L632.37,511.38 L634.06,509.27 L635.75,507.09 L637.43,504.84 L639.12,502.52 L640.81,500.14 L642.50,497.70 L644.19,495.21 L645.88,492.69 L647.56,490.13 L649.25,487.55 L650.94,484.96 L652.63,482.37 L654.32,479.78 L656.01,477.23 L657.70,474.71 L659.38,472.23 L661.07,469.83 L662.76,467.49 L664.45,465.24 L666.14,463.10 L667.83,461.06 L669.51,459.13 L671.20,457.34 L672.89,455.68 L674.58,454.16 L676.27,452.78 L677.96,451.54 L679.64,450.44 L681.33,449.48 L683.02,448.65 L684.71,447.94 L686.40,447.35 L688.09,446.86 L689.77,446.46 L691.46,446.13 L693.15,445.85 L694.84,445.61 L696.53,445.37 L698.22,445.13 L699.91,444.86 L701.59,444.53 L703.28,444.13 L704.97,443.64 L706.66,443.03 L708.35,442.29 L710.04,441.39 L711.72,440.34 L713.41,439.11 L715.10,437.69 L716.79,436.08 L718.48,434.28 L720.17,432.29 L721.85,430.10 L723.54,427.73 L725.23,425.18 L726.92,422.46 L728.61,419.58 L730.30,416.56 L731.98,413.40 L733.67,410.13 L735.36,406.75 L737.05,403.29 L738.74,399.74 L740.43,396.13 L742.12,392.46 L743.80,388.75 L745.49,385.00 L747.18,381.24 L748.87,377.48 L750.56,373.73 L752.25,370.03 L753.93,366.40 L755.62,362.88 L757.31,359.52 L759.00,356.37 L760.69,353.49 L762.38,350.94 L764.06,348.81 L765.75,347.17 L767.44,346.10 L769.13,345.67 L770.82,346.00 L772.51,347.19 L774.19,349.32 L775.88,352.41 L777.57,356.50 L779.26,361.58 L780.95,367.62 L782.64,374.57 L784.33,382.34 L786.01,390.85 L787.70,399.96 L789.39,409.55 L791.08,419.47 L792.77,429.56 L794.46,439.69 L796.14,449.70 L797.83,459.47 L799.52,468.88 L801.21,477.83 L802.90,486.25 L804.59,494.09 L806.27,501.30 L807.96,507.88 L809.65,513.85 L811.34,519.22 L813.03,524.05 L814.72,528.37 L816.40,532.24 L818.09,535.72 L819.78,538.86 L821.47,541.71 L823.16,544.31 L824.85,546.70 L826.54,548.89 L828.22,550.91 L829.91,552.77 L831.60,554.47 L833.29,556.02 L834.98,557.43 L836.67,558.70 L838.35,559.83 L840.04,560.83 L841.73,561.71 L843.42,562.48 L845.11,563.14 L846.80,563.73 L848.48,564.23 L850.17,564.67 L851.86,565.06 L853.55,565.39 L855.24,565.69 L856.93,565.96 L858.61,566.20 L860.30,566.42 L861.99,566.62 L863.68,566.81" stroke="#000000"/>
<path d="M526.00,499.89 L527.69,499.88 L529.38,499.88 L531.07,499.87 L532.75,499.86 L534.44,499.85 L536.13,499.84 L537.82,499.83 L539.51,499.81 L541.20,499.79 L542.88,499.77 L544.57,499.74 L546.26,499.70 L547.95,499.66 L549.64,499.62 L551.33,499.57 L553.01,499.51 L554.70,499.45 L556.39,499.37 L558.08,499.30 L559.77,499.21 L561.46,499.11 L563.14,499.00 L564.83,498.89 L566.52,498.76 L568.21,498.63 L569.90,498.48 L571.59,498.33 L573.28,498.17 L574.96,498.00 L576.65,497.82 L578.34,497.63 L580.03,497.44 L581.72,497.24 L583.41,497.04 L585.09,496.82 L586.78,496.61 L588.47,496.38 L590.16,496.16 L591.85,495.92 L593.54,495.69 L595.22,495.45 L596.91,495.20 L598.60,494.96 L600.29,494.71 L601.98,494.46 L603.67,494.20 L605.35,493.95 L607.04,493.69 L608.73,493.44 L610.42,493.18 L612.11,492.92 L613.80,492.65 L615.49,492.39 L617.17,492.12 L618.86,491.85 L620.55,491.58 L622.24,491.30 L623.93,491.02 L625.62,490.74 L627.30,490.45 L628.99,490.17 L630.68,489.87 L632.37,489.57 L634.06,489.27 L635.75,488.97 L637.43,488.66 L639.12,488.34 L640.81,488.02 L642.50,487.70 L644.19,487.37 L645.88,487.05 L647.56,486.72 L649.25,486.40 L650.94,486.07 L652.63,485.75 L654.32,485.43 L656.01,485.11 L657.70,484.80 L659.38,484.49 L661.07,484.19 L662.76,483.90 L664.45,483.61 L666.14,483.34 L667.83,483.07 L669.51,482.81 L671.20,482.57 L672.89,482.33 L674.58,482.10 L676.27,481.87 L677.96,481.66 L679.64,481.44 L681.33,481.23 L683.02,481.02 L684.71,480.81 L686.40,480.61 L688.09,480.40 L689.77,480.19 L691.46,479.98 L693.15,479.77 L694.84,479.56 L696.53,479.35 L698.22,479.15 L699.91,478.95 L701.59,478.76 L703.28,478.57 L704.97,478.38 L706.66,478.19 L708.35,478.00 L710.04,477.82 L711.72,477.62 L713.41,477.43 L715.10,477.23 L716.79,477.02 L718.48,476.81 L720.17,476.59 L721.85,476.38 L723.54,476.16 L725.23,475.94 L726.92,475.74 L728.61,475.54 L730.30,475.36 L731.98,475.20 L733.67,475.07 L735.36,474.96 L737.05,474.88 L738.74,474.84 L740.43,474.84 L742.12,474.89 L743.80,474.99 L745.49,475.14 L747.18,475.37 L748.87,475.68 L750.56,476.07 L752.25,476.57 L753.93,477.15 L755.62,477.83 L757.31,478.60 L759.00,479.44 L760.69,480.37 L762.38,481.37 L764.06,482.44 L765.75,483.58 L767.44,484.78 L769.13,486.03 L770.82,487.33 L772.51,488.67 L774.19,490.04 L775.88,491.43 L777.57,492.84 L779.26,494.25 L780.95,495.67 L782.64,497.07 L784.33,498.46 L786.01,499.83 L787.70,501.16 L789.39,502.46 L791.08,503.71 L792.77,504.91 L794.46,506.04 L796.14,507.11 L797.83,508.10 L799.52,509.02 L801.21,509.87 L802.90,510.66 L804.59,511.40 L806.27,512.10 L807.96,512.76 L809.65,513.41 L811.34,514.03 L813.03,514.64 L814.72,515.25 L816.40,515.85 L818.09,516.43 L819.78,516.99 L821.47,517.53 L823.16,518.04 L824.85,518.53 L826.54,518.97 L828.22,519.39 L829.91,519.76 L831.60,520.10 L833.29,520.41 L834.98,520.69 L836.67,520.95 L838.35,521.18 L840.04,521.39 L841.73,521.57 L843.42,521.74 L845.11,521.90 L846.80,522.03 L848.48,522.15 L850.17,522.26 L851.86,522.36 L853.55,522.44 L855.24,522.52 L856.93,522.59 L858.61,522.66 L860.30,522.72 L861.99,522.78 L863.68,522.83" stroke="#ff0000"/>
<path d="M526.00,512.76 L527.69,512.74 L529.38,512.73 L531.07,512.72 L532.75,512.70 L534.44,512.68 L536.13,512.67 L537.82,512.65 L539.51,512.62 L541.20,512.60 L542.88,512.57 L544.57,512.54 L546.26,512.50 L547.95,512.46 L549.64,512.42 L551.33,512.37 L553.01,512.31 L554.70,512.25 L556.39,512.19 L558.08,512.12 L559.77,512.04 L561.46,511.95 L563.14,511.86 L564.83,511.76 L566.52,511.65 L568.21,511.54 L569.90,511.41 L571.59,511.29 L573.28,511.15 L574.96,511.01 L576.65,510.86 L578.34,510.71 L580.03,510.55 L581.72,510.39 L583.41,510.22 L585.09,510.05 L586.78,509.87 L588.47,509.70 L590.16,509.51 L591.85,509.33 L593.54,509.15 L595.22,508.96 L596.91,508.77 L598.60,508.58 L600.29,508.39 L601.98,508.19 L603.67,508.00 L605.35,507.81 L607.04,507.62 L608.73,507.43 L610.42,507.24 L612.11,507.04 L613.80,506.85 L615.49,506.66 L617.17,506.47 L618.86,506.27 L620.55,506.08 L622.24,505.88 L623.93,505.68 L625.62,505.48 L627.30,505.28 L628.99,505.07 L630.68,504.87 L632.37,504.66 L634.06,504.44 L635.75,504.23 L637.43,504.01 L639.12,503.78 L640.81,503.55 L642.50,503.32 L644.19,503.09 L645.88,502.85 L647.56,502.62 L649.25,502.38 L650.94,502.14 L652.63,501.89 L654.32,501.65 L656.01,501.41 L657.70,501.16 L659.38,500.92 L661.07,500.68 L662.76,500.43 L664.45,500.19 L666.14,499.95 L667.83,499.72 L669.51,499.48 L671.20,499.25 L672.89,499.02 L674.58,498.80 L676.27,498.58 L677.96,498.36 L679.64,498.16 L681.33,497.96 L683.02,497.77 L684.71,497.59 L686.40,497.42 L688.09,497.26 L689.77,497.11 L691.46,496.97 L693.15,496.84 L694.84,496.72 L696.53,496.61 L698.22,496.51 L699.91,496.42 L701.59,496.33 L703.28,496.25 L704.97,496.17 L706.66,496.10 L708.35,496.04 L710.04,495.98 L711.72,495.93 L713.41,495.88 L715.10,495.83 L716.79,495.79 L718.48,495.76 L720.17,495.72 L721.85,495.69 L723.54,495.67 L725.23,495.66 L726.92,495.67 L728.61,495.70 L730.30,495.76 L731.98,495.84 L733.67,495.96 L735.36,496.11 L737.05,496.31 L738.74,496.56 L740.43,496.85 L742.12,497.19 L743.80,497.57 L745.49,498.01 L747.18,498.49 L748.87,499.03 L750.56,499.62 L752.25,500.27 L753.93,500.96 L755.62,501.69 L757.31,502.46 L759.00,503.26 L760.69,504.07 L762.38,504.90 L764.06,505.74 L765.75,506.57 L767.44,507.40 L769.13,508.22 L770.82,509.05 L772.51,509.87 L774.19,510.69 L775.88,511.52 L777.57,512.36 L779.26,513.21 L780.95,514.08 L782.64,514.96 L784.33,515.85 L786.01,516.74 L787.70,517.62 L789.39,518.49 L791.08,519.33 L792.77,520.13 L794.46,520.89 L796.14,521.59 L797.83,522.23 L799.52,522.80 L801.21,523.32 L802.90,523.79 L804.59,524.22 L806.27,524.61 L807.96,524.99 L809.65,525.35 L811.34,525.70 L813.03,526.05 L814.72,526.41 L816.40,526.77 L818.09,527.12 L819.78,527.48 L821.47,527.83 L823.16,528.17 L824.85,528.50 L826.54,528.81 L828.22,529.11 L829.91,529.39 L831.60,529.65 L833.29,529.90 L834.98,530.12 L836.67,530.32 L838.35,530.51 L840.04,530.69 L841.73,530.85 L843.42,530.99 L845.11,531.13 L846.80,531.25 L848.48,531.36 L850.17,531.46 L851.86,531.55 L853.55,531.64 L855.24,531.72 L856.93,531.80 L858.61,531.87 L860.30,531.94 L861.99,532.00 L863.68,532.07" stroke="#0000ff"/>
<path d="M526.00,525.46 L527.69,525.43 L529.38,525.41 L531.07,525.38 L532.75,525.35 L534.44,525.32 L536.13,525.29 L537.82,525.26 L539.51,525.23 L541.20,525.19 L542.88,525.16 L544.57,525.12 L546.26,525.08 L547.95,525.04 L549.64,525.00 L551.33,524.95 L553.01,524.90 L554.70,524.85 L556.39,524.79 L558.08,524.74 L559.77,524.67 L561.46,524.61 L563.14,524.54 L564.83,524.47 L566.52,524.39 L568.21,524.31 L569.90,524.23 L571.59,524.14 L573.28,524.05 L574.96,523.95 L576.65,523.85 L578.34,523.75 L580.03,523.65 L581.72,523.54 L583.41,523.43 L585.09,523.32 L586.78,523.20 L588.47,523.09 L590.16,522.97 L591.85,522.85 L593.54,522.72 L595.22,522.60 L596.91,522.47 L598.60,522.35 L600.29,522.22 L601.98,522.09 L603.67,521.96 L605.35,521.83 L607.04,521.70 L608.73,521.57 L610.42,521.44 L612.11,521.30 L613.80,521.17 L615.49,521.04 L617.17,520.91 L618.86,520.78 L620.55,520.64 L622.24,520.51 L623.93,520.38 L625.62,520.25 L627.30,520.12 L628.99,519.99 L630.68,519.86 L632.37,519.73 L634.06,519.61 L635.75,519.48 L637.43,519.36 L639.12,519.23 L640.81,519.11 L642.50,518.99 L644.19,518.87 L645.88,518.75 L647.56,518.63 L649.25,518.51 L650.94,518.39 L652.63,518.27 L654.32,518.16 L656.01,518.04 L657.70,517.92 L659.38,517.80 L661.07,517.68 L662.76,517.56 L664.45,517.44 L666.14,517.32 L667.83,517.20 L669.51,517.08 L671.20,516.96 L672.89,516.84 L674.58,516.72 L676.27,516.60 L677.96,516.48 L679.64,516.37 L681.33,516.26 L683.02,516.16 L684.71,516.07 L686.40,515.98 L688.09,515.90 L689.77,515.83 L691.46,515.76 L693.15,515.70 L694.84,515.66 L696.53,515.62 L698.22,515.58 L699.91,515.56 L701.59,515.54 L703.28,515.53 L704.97,515.52 L706.66,515.53 L708.35,515.54 L710.04,515.56 L711.72,515.59 L713.41,515.63 L715.10,515.68 L716.79,515.74 L718.48,515.80 L720.17,515.88 L721.85,515.97 L723.54,516.07 L725.23,516.19 L726.92,516.31 L728.61,516.46 L730.30,516.62 L731.98,516.80 L733.67,517.00 L735.36,517.23 L737.05,517.47 L738.74,517.74 L740.43,518.03 L742.12,518.34 L743.80,518.67 L745.49,519.02 L747.18,519.39 L748.87,519.78 L750.56,520.18 L752.25,520.60 L753.93,521.03 L755.62,521.48 L757.31,521.95 L759.00,522.43 L760.69,522.92 L762.38,523.43 L764.06,523.95 L765.75,524.48 L767.44,525.02 L769.13,525.57 L770.82,526.13 L772.51,526.70 L774.19,527.28 L775.88,527.85 L777.57,528.43 L779.26,529.01 L780.95,529.59 L782.64,530.16 L784.33,530.73 L786.01,531.29 L787.70,531.84 L789.39,532.38 L791.08,532.90 L792.77,533.40 L794.46,533.88 L796.14,534.33 L797.83,534.75 L799.52,535.15 L801.21,535.52 L802.90,535.86 L804.59,536.18 L806.27,536.47 L807.96,536.75 L809.65,537.00 L811.34,537.23 L813.03,537.45 L814.72,537.64 L816.40,537.82 L818.09,537.99 L819.78,538.14 L821.47,538.28 L823.16,538.41 L824.85,538.53 L826.54,538.64 L828.22,538.74 L829.91,538.83 L831.60,538.92 L833.29,539.01 L834.98,539.09 L836.67,539.16 L838.35,539.23 L840.04,539.30 L841.73,539.37 L843.42,539.43 L845.11,539.48 L846.80,539.54 L848.48,539.59 L850.17,539.64 L851.86,539.69 L853.55,539.73 L855.24,539.78 L856.93,539.82 L858.61,539.86 L860.30,539.90 L861.99,539.94 L863.68,539.98" stroke="#00ff00"/>
<path d="M526.00,539.82 L527.69,539.80 L529.38,539.78 L531.07,539.76 L532.75,539.75 L534.44,539.73 L536.13,539.71 L537.82,539.69 L539.51,539.67 L541.20,539.64 L542.88,539.62 L544.57,539.60 L546.26,539.57 L547.95,539.54 L549.64,539.51 L551.33,539.48 L553.01,539.45 L554.70,539.41 L556.39,539.38 L558.08,539.34 L559.77,539.30 L561.46,539.25 L563.14,539.20 L564.83,539.15 L566.52,539.10 L568.21,539.04 L569.90,538.98 L571.59,538.92 L573.28,538.86 L574.96,538.79 L576.65,538.72 L578.34,538.65 L580.03,538.58 L581.72,538.51 L583.41,538.43 L585.09,538.35 L586.78,538.27 L588.47,538.19 L590.16,538.11 L591.85,538.03 L593.54,537.94 L595.22,537.86 L596.91,537.77 L598.60,537.69 L600.29,537.60 L601.98,537.51 L603.67,537.43 L605.35,537.34 L607.04,537.25 L608.73,537.17 L610.42,537.08 L612.11,536.99 L613.80,536.91 L615.49,536.82 L617.17,536.73 L618.86,536.65 L620.55,536.56 L622.24,536.48 L623.93,536.40 L625.62,536.32 L627.30,536.23 L628.99,536.15 L630.68,536.08 L632.37,536.00 L634.06,535.92 L635.75,535.85 L637.43,535.77 L639.12,535.70 L640.81,535.63 L642.50,535.56 L644.19,535.49 L645.88,535.42 L647.56,535.36 L649.25,535.30 L650.94,535.24 L652.63,535.18 L654.32,535.12 L656.01,535.07 L657.70,535.02 L659.38,534.96 L661.07,534.92 L662.76,534.87 L664.45,534.82 L666.14,534.78 L667.83,534.74 L669.51,534.70 L671.20,534.66 L672.89,534.62 L674.58,534.58 L676.27,534.55 L677.96,534.52 L679.64,534.49 L681.33,534.46 L683.02,534.43 L684.71,534.41 L686.40,534.38 L688.09,534.36 L689.77,534.34 L691.46,534.32 L693.15,534.31 L694.84,534.30 L696.53,534.30 L698.22,534.31 L699.91,534.32 L701.59,534.35 L703.28,534.39 L704.97,534.45 L706.66,534.51 L708.35,534.59 L710.04,534.68 L711.72,534.77 L713.41,534.88 L715.10,534.99 L716.79,535.10 L718.48,535.22 L720.17,535.34 L721.85,535.47 L723.54,535.59 L725.23,535.72 L726.92,535.85 L728.61,535.98 L730.30,536.12 L731.98,536.26 L733.67,536.41 L735.36,536.56 L737.05,536.72 L738.74,536.89 L740.43,537.07 L742.12,537.26 L743.80,537.45 L745.49,537.66 L747.18,537.87 L748.87,538.10 L750.56,538.34 L752.25,538.59 L753.93,538.86 L755.62,539.13 L757.31,539.42 L759.00,539.72 L760.69,540.02 L762.38,540.33 L764.06,540.65 L765.75,540.97 L767.44,541.30 L769.13,541.63 L770.82,541.97 L772.51,542.31 L774.19,542.65 L775.88,542.99 L777.57,543.33 L779.26,543.67 L780.95,544.00 L782.64,544.34 L784.33,544.67 L786.01,545.00 L787.70,545.32 L789.39,545.63 L791.08,545.94 L792.77,546.24 L794.46,546.53 L796.14,546.81 L797.83,547.09 L799.52,547.35 L801.21,547.60 L802.90,547.83 L804.59,548.06 L806.27,548.27 L807.96,548.46 L809.65,548.64 L811.34,548.80 L813.03,548.94 L814.72,549.07 L816.40,549.18 L818.09,549.28 L819.78,549.36 L821.47,549.43 L823.16,549.49 L824.85,549.54 L826.54,549.58 L828.22,549.61 L829.91,549.64 L831.60,549.66 L833.29,549.68 L834.98,549.70 L836.67,549.71 L838.35,549.73 L840.04,549.74 L841.73,549.76 L843.42,549.78 L845.11,549.79 L846.80,549.81 L848.48,549.84 L850.17,549.86 L851.86,549.88 L853.55,549.90 L855.24,549.92 L856.93,549.95 L858.61,549.97 L860.30,550.00 L861.99,550.02 L863.68,550.04" stroke="#ff00ff"/>
<path d="M526.00,548.89 L527.69,548.85 L529.38,548.82 L531.07,548.78 L532.75,548.75 L534.44,548.71 L536.13,548.67 L537.82,548.64 L539.51,548.60 L541.20,548.57 L542.88,548.53 L544.57,548.49 L546.26,548.46 L547.95,548.42 L549.64,548.38 L551.33,548.35 L553.01,548.31 L554.70,548.27 L556.39,548.23 L558.08,548.20 L559.77,548.16 L561.46,548.12 L563.14,548.08 L564.83,548.05 L566.52,548.01 L568.21,547.97 L569.90,547.93 L571.59,547.89 L573.28,547.85 L574.96,547.81 L576.65,547.77 L578.34,547.73 L580.03,547.69 L581.72,547.65 L583.41,547.61 L585.09,547.57 L586.78,547.53 L588.47,547.49 L590.16,547.44 L591.85,547.40 L593.54,547.36 L595.22,547.32 L596.91,547.27 L598.60,547.23 L600.29,547.19 L601.98,547.14 L603.67,547.10 L605.35,547.06 L607.04,547.01 L608.73,546.97 L610.42,546.92 L612.11,546.88 L613.80,546.83 L615.49,546.79 L617.17,546.74 L618.86,546.70 L620.55,546.65 L622.24,546.61 L623.93,546.56 L625.62,546.51 L627.30,546.47 L628.99,546.42 L630.68,546.38 L632.37,546.33 L634.06,546.28 L635.75,546.24 L637.43,546.19 L639.12,546.15 L640.81,546.10 L642.50,546.06 L644.19,546.01 L645.88,545.96 L647.56,545.92 L649.25,545.87 L650.94,545.83 L652.63,545.78 L654.32,545.74 L656.01,545.70 L657.70,545.66 L659.38,545.62 L661.07,545.58 L662.76,545.55 L664.45,545.52 L666.14,545.49 L667.83,545.47 L669.51,545.45 L671.20,545.44 L672.89,545.43 L674.58,545.42 L676.27,545.42 L677.96,545.43 L679.64,545.44 L681.33,545.46 L683.02,545.49 L684.71,545.51 L686.40,545.55 L688.09,545.59 L689.77,545.63 L691.46,545.68 L693.15,545.74 L694.84,545.79 L696.53,545.85 L698.22,545.92 L699.91,545.98 L701.59,546.06 L703.28,546.13 L704.97,546.21 L706.66,546.29 L708.35,546.37 L710.04,546.46 L711.72,546.55 L713.41,546.65 L715.10,546.75 L716.79,546.85 L718.48,546.96 L720.17,547.08 L721.85,547.19 L723.54,547.31 L725.23,547.44 L726.92,547.57 L728.61,547.70 L730.30,547.84 L731.98,547.99 L733.67,548.14 L735.36,548.29 L737.05,548.45 L738.74,548.61 L740.43,548.78 L742.12,548.95 L743.80,549.13 L745.49,549.31 L747.18,549.50 L748.87,549.69 L750.56,549.89 L752.25,550.09 L753.93,550.30 L755.62,550.51 L757.31,550.72 L759.00,550.94 L760.69,551.15 L762.38,551.37 L764.06,551.59 L765.75,551.81 L767.44,552.02 L769.13,552.24 L770.82,552.45 L772.51,552.66 L774.19,552.86 L775.88,553.06 L777.57,553.25 L779.26,553.44 L780.95,553.62 L782.64,553.79 L784.33,553.95 L786.01,554.10 L787.70,554.25 L789.39,554.39 L791.08,554.52 L792.77,554.65 L794.46,554.76 L796.14,554.88 L797.83,554.98 L799.52,555.08 L801.21,555.17 L802.90,555.26 L804.59,555.35 L806.27,555.42 L807.96,555.50 L809.65,555.56 L811.34,555.63 L813.03,555.68 L814.72,555.74 L816.40,555.79 L818.09,555.84 L819.78,555.88 L821.47,555.92 L823.16,555.96 L824.85,555.99 L826.54,556.02 L828.22,556.05 L829.91,556.07 L831.60,556.09 L833.29,556.11 L834.98,556.12 L836.67,556.14 L838.35,556.15 L840.04,556.16 L841.73,556.17 L843.42,556.17 L845.11,556.18 L846.80,556.18 L848.48,556.18 L850.17,556.18 L851.86,556.18 L853.55,556.18 L855.24,556.17 L856.93,556.17 L858.61,556.17 L860.30,556.16 L861.99,556.16 L863.68,556.15" stroke="#808000"/>
<path d="M526.00,563.41 L527.69,563.40 L529.38,563.39 L531.07,563.38 L532.75,563.37 L534.44,563.36 L536.13,563.35 L537.82,563.34 L539.51,563.33 L541.20,563.32 L542.88,563.31 L544.57,563.30 L546.26,563.29 L547.95,563.28 L549.64,563.26 L551.33,563.25 L553.01,563.24 L554.70,563.23 L556.39,563.22 L558.08,563.21 L559.77,563.19 L561.46,563.18 L563.14,563.17 L564.83,563.16 L566.52,563.14 L568.21,563.13 L569.90,563.12 L571.59,563.10 L573.28,563.09 L574.96,563.07 L576.65,563.06 L578.34,563.04 L580.03,563.03 L581.72,563.01 L583.41,563.00 L585.09,562.98 L586.78,562.96 L588.47,562.95 L590.16,562.93 L591.85,562.91 L593.54,562.89 L595.22,562.87 L596.91,562.85 L598.60,562.83 L600.29,562.81 L601.98,562.79 L603.67,562.77 L605.35,562.75 L607.04,562.73 L608.73,562.70 L610.42,562.68 L612.11,562.66 L613.80,562.63 L615.49,562.61 L617.17,562.58 L618.86,562.56 L620.55,562.53 L622.24,562.51 L623.93,562.48 L625.62,562.46 L627.30,562.43 L628.99,562.40 L630.68,562.38 L632.37,562.35 L634.06,562.32 L635.75,562.30 L637.43,562.27 L639.12,562.25 L640.81,562.22 L642.50,562.19 L644.19,562.17 L645.88,562.14 L647.56,562.12 L649.25,562.09 L650.94,562.07 L652.63,562.04 L654.32,562.02 L656.01,561.99 L657.70,561.97 L659.38,561.95 L661.07,561.92 L662.76,561.90 L664.45,561.88 L666.14,561.86 L667.83,561.84 L669.51,561.82 L671.20,561.81 L672.89,561.79 L674.58,561.78 L676.27,561.77 L677.96,561.77 L679.64,561.77 L681.33,561.77 L683.02,561.77 L684.71,561.78 L686.40,561.79 L688.09,561.81 L689.77,561.83 L691.46,561.86 L693.15,561.89 L694.84,561.93 L696.53,561.98 L698.22,562.03 L699.91,562.08 L701.59,562.14 L703.28,562.20 L704.97,562.27 L706.66,562.33 L708.35,562.40 L710.04,562.48 L711.72,562.55 L713.41,562.62 L715.10,562.70 L716.79,562.77 L718.48,562.84 L720.17,562.91 L721.85,562.98 L723.54,563.04 L725.23,563.11 L726.92,563.17 L728.61,563.23 L730.30,563.29 L731.98,563.34 L733.67,563.40 L735.36,563.45 L737.05,563.50 L738.74,563.55 L740.43,563.60 L742.12,563.65 L743.80,563.70 L745.49,563.74 L747.18,563.79 L748.87,563.83 L750.56,563.88 L752.25,563.92 L753.93,563.96 L755.62,564.00 L757.31,564.04 L759.00,564.08 L760.69,564.12 L762.38,564.16 L764.06,564.20 L765.75,564.24 L767.44,564.27 L769.13,564.31 L770.82,564.35 L772.51,564.39 L774.19,564.43 L775.88,564.47 L777.57,564.50 L779.26,564.54 L780.95,564.58 L782.64,564.62 L784.33,564.65 L786.01,564.69 L787.70,564.73 L789.39,564.76 L791.08,564.80 L792.77,564.84 L794.46,564.87 L796.14,564.91 L797.83,564.94 L799.52,564.98 L801.21,565.01 L802.90,565.04 L804.59,565.08 L806.27,565.11 L807.96,565.14 L809.65,565.18 L811.34,565.21 L813.03,565.24 L814.72,565.27 L816.40,565.30 L818.09,565.33 L819.78,565.36 L821.47,565.39 L823.16,565.42 L824.85,565.45 L826.54,565.48 L828.22,565.51 L829.91,565.53 L831.60,565.56 L833.29,565.59 L834.98,565.62 L836.67,565.64 L838.35,565.67 L840.04,565.70 L841.73,565.72 L843.42,565.75 L845.11,565.77 L846.80,565.80 L848.48,565.83 L850.17,565.85 L851.86,565.88 L853.55,565.90 L855.24,565.93 L856.93,565.95 L858.61,565.98 L860.30,566.00 L861.99,566.03 L863.68,566.05" stroke="#000080"/>
</g>
<rect x="659.3" y="325.6" width="105.40" height="115.40" fill="none" stroke="#999999" stroke-width="1.3"/>
<line x1="661.5" y1="335.20" x2="701.7" y2="335.20" stroke="#000000" stroke-width="3.8" stroke-linecap="round"/>
<text transform="translate(706.60,339.70) scale(1.420,1)" font-family="'Liberation Sans', sans-serif" font-weight="bold" font-size="12.50" fill="#000" stroke="#000" stroke-width="0.3" stroke-linejoin="round">MB</text>
<line x1="661.5" y1="351.40" x2="701.7" y2="351.40" stroke="#ff0000" stroke-width="3.8" stroke-linecap="round"/>
<text transform="translate(706.69,355.90) scale(1.420,1)" font-family="'Liberation Sans', sans-serif" font-weight="bold" font-size="12.50" fill="#000" stroke="#000" stroke-width="0.3" stroke-linejoin="round">15 min</text>
<line x1="661.5" y1="367.60" x2="701.7" y2="367.60" stroke="#0000ff" stroke-width="3.8" stroke-linecap="round"/>
<text transform="translate(707.40,372.10) scale(1.420,1)" font-family="'Liberation Sans', sans-serif" font-weight="bold" font-size="12.50" fill="#000" stroke="#000" stroke-width="0.3" stroke-linejoin="round">30 min</text>
<line x1="661.5" y1="383.80" x2="701.7" y2="383.80" stroke="#00ff00" stroke-width="3.8" stroke-linecap="round"/>
<text transform="translate(707.53,388.30) scale(1.420,1)" font-family="'Liberation Sans', sans-serif" font-weight="bold" font-size="12.50" fill="#000" stroke="#000" stroke-width="0.3" stroke-linejoin="round">45 min</text>
<line x1="661.5" y1="400.00" x2="701.7" y2="400.00" stroke="#ff00ff" stroke-width="3.8" stroke-linecap="round"/>
<text transform="translate(707.13,404.50) scale(1.420,1)" font-family="'Liberation Sans', sans-serif" font-weight="bold" font-size="12.50" fill="#000" stroke="#000" stroke-width="0.3" stroke-linejoin="round">60 min</text>
<line x1="661.5" y1="416.20" x2="701.7" y2="416.20" stroke="#808000" stroke-width="3.8" stroke-linecap="round"/>
<text transform="translate(707.05,420.70) scale(1.420,1)" font-family="'Liberation Sans', sans-serif" font-weight="bold" font-size="12.50" fill="#000" stroke="#000" stroke-width="0.3" stroke-linejoin="round">75 min</text>
<line x1="661.5" y1="432.40" x2="701.7" y2="432.40" stroke="#000080" stroke-width="3.8" stroke-linecap="round"/>
<text transform="translate(707.18,436.90) scale(1.420,1)" font-family="'Liberation Sans', sans-serif" font-weight="bold" font-size="12.50" fill="#000" stroke="#000" stroke-width="0.3" stroke-linejoin="round">90 min</text>
<rect x="655.60" y="322.40" width="425.90" height="3.2" fill="#000"/>
<rect x="655.60" y="569.40" width="425.90" height="3.2" fill="#000"/>
<rect x="655.60" y="322.40" width="3.8" height="250.20" fill="#000"/>
<rect x="1077.70" y="322.40" width="3.8" height="250.20" fill="#000"/>
<rect x="655.90" y="571.00" width="3.2" height="4.40" fill="#000"/>
<text transform="translate(641.84,590.00) scale(1.410,1)" font-family="'Liberation Sans', sans-serif" font-weight="bold" font-size="13.40" fill="#000">520</text>
<rect x="698.11" y="571.00" width="3.2" height="2.30" fill="#000"/>
<rect x="740.32" y="571.00" width="3.2" height="4.40" fill="#000"/>
<text transform="translate(726.26,590.00) scale(1.410,1)" font-family="'Liberation Sans', sans-serif" font-weight="bold" font-size="13.40" fill="#000">560</text>
<rect x="782.53" y="571.00" width="3.2" height="2.30" fill="#000"/>
<rect x="824.74" y="571.00" width="3.2" height="4.40" fill="#000"/>
<text transform="translate(810.61,590.00) scale(1.410,1)" font-family="'Liberation Sans', sans-serif" font-weight="bold" font-size="13.40" fill="#000">600</text>
<rect x="866.95" y="571.00" width="3.2" height="2.30" fill="#000"/>
<rect x="909.16" y="571.00" width="3.2" height="4.40" fill="#000"/>
<text transform="translate(895.03,590.00) scale(1.410,1)" font-family="'Liberation Sans', sans-serif" font-weight="bold" font-size="13.40" fill="#000">640</text>
<rect x="951.37" y="571.00" width="3.2" height="2.30" fill="#000"/>
<rect x="993.58" y="571.00" width="3.2" height="4.40" fill="#000"/>
<text transform="translate(979.45,590.00) scale(1.410,1)" font-family="'Liberation Sans', sans-serif" font-weight="bold" font-size="13.40" fill="#000">680</text>
<rect x="1035.79" y="571.00" width="3.2" height="2.30" fill="#000"/>
<rect x="1078.00" y="571.00" width="3.2" height="4.40" fill="#000"/>
<text transform="translate(1063.82,590.00) scale(1.410,1)" font-family="'Liberation Sans', sans-serif" font-weight="bold" font-size="13.40" fill="#000">720</text>
<rect x="651.20" y="569.80" width="4.90" height="2.4" fill="#000"/>
<text transform="translate(619.49,575.04) scale(1.410,1)" font-family="'Liberation Sans', sans-serif" font-weight="bold" font-size="13.40" fill="#000">0.0</text>
<rect x="654.10" y="545.05" width="2.00" height="2.4" fill="#000"/>
<rect x="651.20" y="520.30" width="4.90" height="2.4" fill="#000"/>
<text transform="translate(619.40,525.54) scale(1.410,1)" font-family="'Liberation Sans', sans-serif" font-weight="bold" font-size="13.40" fill="#000">0.3</text>
<rect x="654.10" y="495.55" width="2.00" height="2.4" fill="#000"/>
<rect x="651.20" y="470.80" width="4.90" height="2.4" fill="#000"/>
<text transform="translate(619.40,476.04) scale(1.410,1)" font-family="'Liberation Sans', sans-serif" font-weight="bold" font-size="13.40" fill="#000">0.6</text>
<rect x="654.10" y="446.05" width="2.00" height="2.4" fill="#000"/>
<rect x="651.20" y="421.30" width="4.90" height="2.4" fill="#000"/>
<text transform="translate(619.40,426.54) scale(1.410,1)" font-family="'Liberation Sans', sans-serif" font-weight="bold" font-size="13.40" fill="#000">0.9</text>
<rect x="654.10" y="396.55" width="2.00" height="2.4" fill="#000"/>
<rect x="651.20" y="371.80" width="4.90" height="2.4" fill="#000"/>
<text transform="translate(619.49,377.04) scale(1.410,1)" font-family="'Liberation Sans', sans-serif" font-weight="bold" font-size="13.40" fill="#000">1.2</text>
<rect x="654.10" y="347.05" width="2.00" height="2.4" fill="#000"/>
<rect x="651.20" y="322.30" width="4.90" height="2.4" fill="#000"/>
<text transform="translate(619.26,327.54) scale(1.410,1)" font-family="'Liberation Sans', sans-serif" font-weight="bold" font-size="13.40" fill="#000">1.5</text>
<text transform="translate(961.32,339.35) scale(1.400,1)" font-family="'Liberation Sans', sans-serif" font-weight="bold" font-size="14.90" fill="#000">20% Cl/ZnO</text>
<text transform="translate(1005.32,356.34) scale(1.404,1)" font-family="'Liberation Sans', sans-serif" font-weight="bold" font-size="14.53" fill="#ff0000">pH 11</text>
<text transform="translate(644.88,612.88) scale(1.085,1)" font-family="'Liberation Serif', serif" font-weight="bold" font-size="25.01" fill="#0a0a14" stroke="#0a0a14" stroke-width="0.5" stroke-linejoin="round">(d)</text>
<text transform="translate(772.79,608.68) scale(1.374,1)" font-family="'Liberation Sans', sans-serif" font-weight="bold" font-size="18.67" fill="#000">Wavelength (nm)</text>
<text transform="translate(611.59,520.11) scale(1.415,1) rotate(-90)" font-family="'Liberation Sans', sans-serif" font-weight="bold" font-size="18.26" fill="#000">Absorbance (a.u)</text>
</svg>
</body></html>
